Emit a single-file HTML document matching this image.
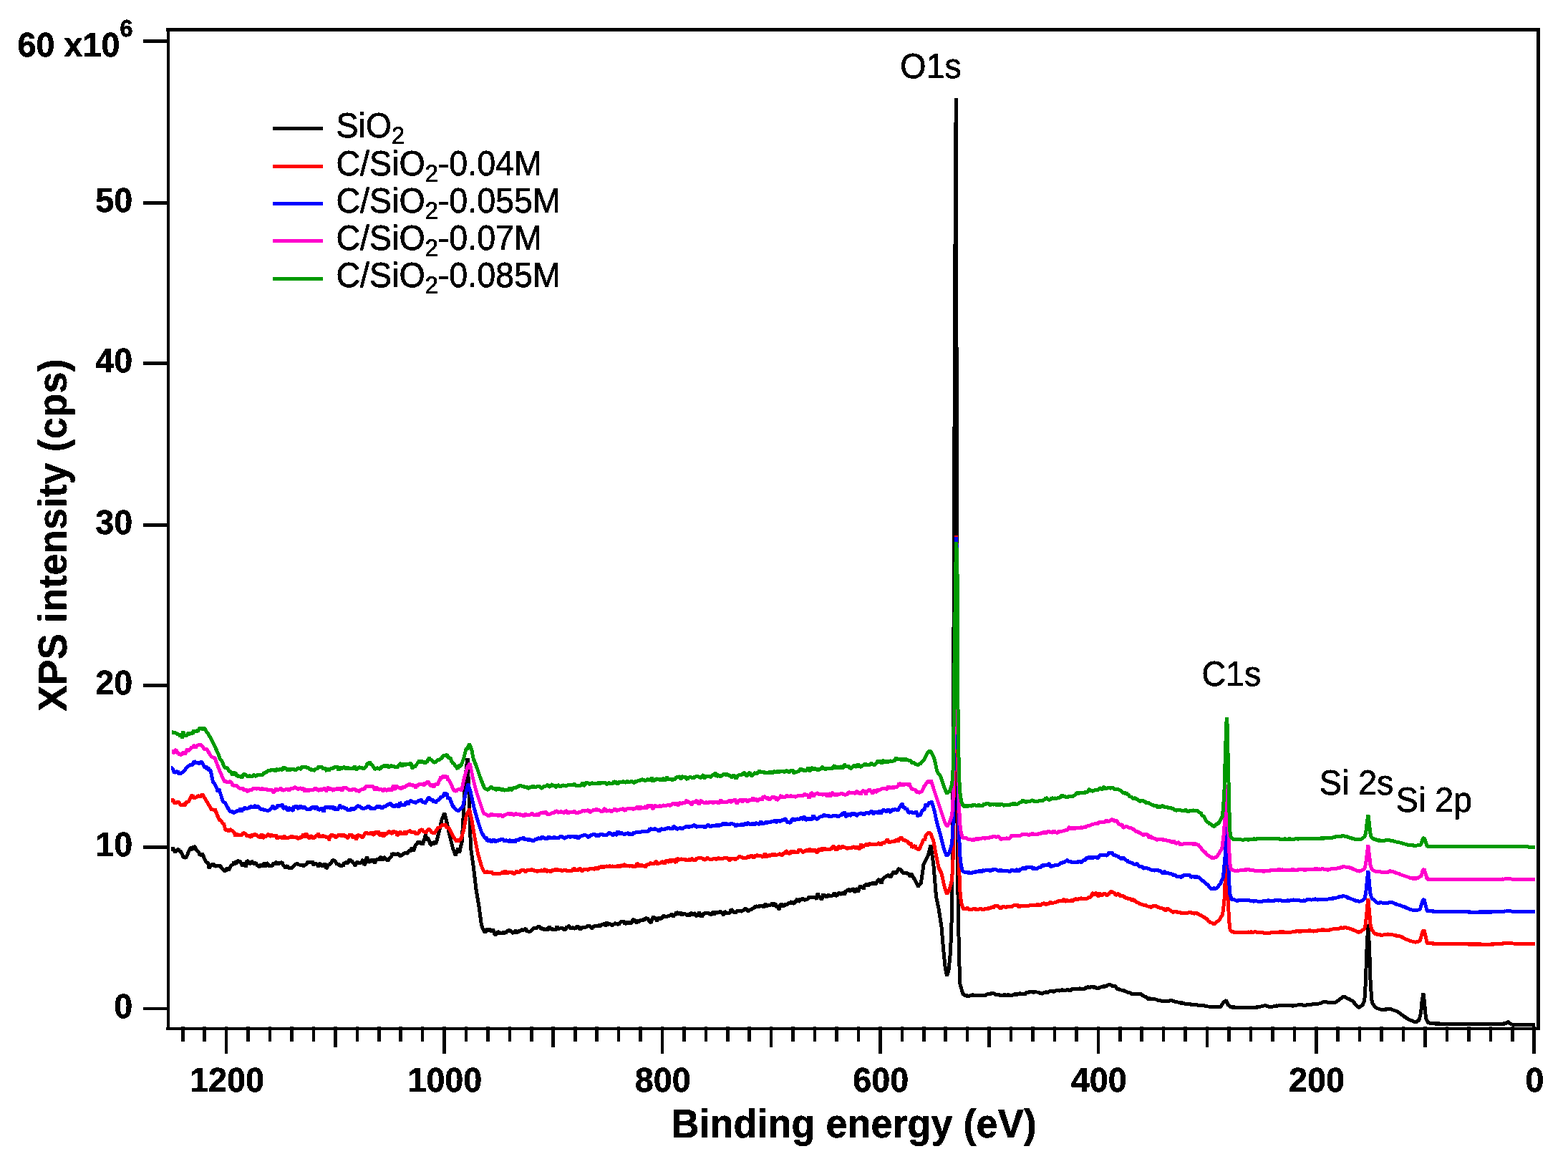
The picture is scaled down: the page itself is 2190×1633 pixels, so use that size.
<!DOCTYPE html>
<html lang="en">
<head>
<meta charset="utf-8">
<title>XPS survey spectra</title>
<style>
html,body{margin:0;padding:0;background:#fff;}
body{width:2190px;height:1633px;overflow:hidden;}
svg{display:block;}
</style>
</head>
<body>
<svg width="2190" height="1633" viewBox="0 0 2190 1633" role="img" aria-label="XPS survey spectra of SiO2 and C/SiO2 samples">
<defs><filter id="crisp" x="0" y="0" width="2190" height="1633" filterUnits="userSpaceOnUse" color-interpolation-filters="sRGB"><feComponentTransfer><feFuncA type="discrete" tableValues="0 1"/></feComponentTransfer></filter></defs>
<rect width="2190" height="1633" fill="#ffffff"/>
<clipPath id="plotA"><rect x="239" y="0" width="1905" height="1633"/></clipPath>
<clipPath id="plotB"><rect x="240" y="0" width="1904" height="1633"/></clipPath>
<g fill="none" stroke-width="5" stroke-linejoin="bevel" stroke-linecap="butt">
<g clip-path="url(#plotA)"><path stroke="#000000" filter="url(#crisp)" d="M238.0 1186.2 L240.0 1186.2 L241.6 1183.8 L243.1 1188.4 L244.7 1190.6 L246.2 1188.8 L247.8 1187.7 L249.4 1185.9 L250.9 1189.2 L252.5 1189.5 L256.2 1197.5 L257.9 1197.8 L259.6 1198.5 L261.2 1195.0 L265.0 1186.2 L266.9 1183.9 L268.8 1187.5 L270.6 1182.2 L272.5 1183.2 L274.2 1187.3 L275.8 1188.9 L277.5 1190.0 L279.2 1194.6 L280.8 1194.1 L282.5 1192.5 L287.5 1203.8 L289.1 1204.8 L290.6 1205.6 L292.2 1213.6 L293.8 1208.8 L295.2 1208.3 L296.7 1207.3 L298.1 1206.7 L299.6 1209.8 L301.0 1210.1 L302.5 1210.0 L304.2 1209.0 L305.8 1209.5 L307.5 1209.5 L309.4 1212.3 L311.2 1213.8 L312.8 1215.9 L314.2 1217.3 L315.8 1215.7 L317.2 1211.6 L318.8 1216.2 L323.8 1207.5 L325.3 1208.8 L326.9 1203.5 L328.4 1206.2 L330.0 1206.2 L331.7 1201.5 L333.3 1203.8 L335.0 1202.5 L338.8 1210.0 L340.3 1206.2 L341.9 1206.5 L343.4 1211.8 L345.0 1202.0 L346.7 1203.3 L348.3 1206.8 L350.0 1206.2 L351.6 1202.8 L353.1 1204.9 L354.7 1206.9 L356.2 1205.0 L357.8 1206.3 L359.4 1209.0 L360.9 1209.9 L362.5 1211.2 L364.2 1207.6 L365.8 1210.1 L367.5 1207.5 L369.1 1205.3 L370.6 1211.3 L372.2 1205.4 L373.8 1206.2 L375.6 1209.7 L377.5 1210.0 L379.0 1208.9 L380.5 1210.0 L382.0 1205.3 L383.5 1208.0 L385.0 1204.5 L386.5 1204.3 L388.0 1207.7 L389.5 1206.3 L391.0 1205.2 L392.5 1205.0 L394.0 1204.2 L395.5 1208.8 L397.0 1209.1 L398.5 1212.8 L400.0 1210.0 L401.5 1209.6 L403.0 1212.3 L404.5 1212.7 L406.0 1212.7 L407.5 1212.5 L409.2 1211.3 L410.8 1209.6 L412.5 1207.5 L414.2 1206.5 L415.8 1206.0 L417.5 1208.8 L419.2 1207.4 L420.8 1209.3 L422.5 1207.5 L424.0 1210.3 L425.5 1208.3 L427.0 1207.7 L428.5 1206.3 L430.0 1203.8 L431.6 1205.2 L433.1 1203.8 L434.7 1205.0 L436.2 1203.0 L437.9 1208.7 L439.6 1205.2 L441.2 1207.5 L442.8 1205.6 L444.4 1211.5 L445.9 1207.1 L447.5 1206.2 L449.2 1209.4 L450.8 1210.0 L452.5 1208.8 L454.0 1205.7 L455.4 1213.6 L456.9 1211.7 L458.3 1207.5 L459.8 1208.4 L461.2 1206.2 L462.9 1205.1 L464.6 1201.3 L466.2 1202.0 L467.8 1202.8 L469.4 1205.0 L470.9 1207.8 L472.5 1206.2 L474.4 1209.5 L476.2 1209.5 L477.8 1208.5 L479.2 1210.4 L480.8 1204.3 L482.2 1206.8 L483.8 1203.8 L485.3 1206.4 L486.9 1203.1 L488.4 1199.5 L490.0 1203.8 L491.5 1202.1 L493.0 1205.3 L494.5 1206.5 L496.0 1209.4 L497.5 1206.2 L499.1 1203.4 L500.6 1205.4 L502.2 1206.5 L503.8 1204.5 L505.3 1204.8 L506.9 1200.1 L508.4 1208.3 L510.0 1207.0 L512.5 1196.2 L514.2 1204.3 L515.8 1203.7 L517.5 1203.8 L519.0 1200.8 L520.5 1201.3 L522.0 1202.0 L523.5 1206.7 L525.0 1200.0 L526.5 1201.0 L528.0 1199.3 L529.5 1202.2 L531.0 1197.8 L532.5 1197.5 L534.1 1202.6 L535.6 1197.1 L537.2 1198.2 L538.8 1200.0 L540.3 1201.1 L541.9 1202.2 L543.4 1199.7 L545.0 1197.5 L546.4 1197.5 L547.9 1191.7 L549.3 1193.6 L550.7 1193.2 L552.1 1192.6 L553.6 1194.6 L555.0 1192.5 L556.7 1192.5 L558.3 1196.1 L560.0 1195.0 L561.6 1194.3 L563.1 1192.3 L564.7 1192.5 L566.2 1191.2 L567.8 1191.8 L569.2 1192.4 L570.8 1188.6 L572.2 1188.7 L573.8 1188.8 L575.2 1183.6 L576.8 1189.2 L578.2 1187.1 L579.8 1181.3 L581.2 1180.0 L582.8 1178.1 L584.2 1175.4 L585.8 1178.2 L587.2 1177.5 L588.8 1176.2 L590.2 1180.6 L591.7 1174.6 L593.1 1170.9 L594.6 1165.6 L596.0 1174.1 L597.5 1169.5 L601.2 1180.0 L602.8 1180.2 L604.2 1175.5 L605.8 1179.7 L607.2 1175.0 L608.8 1178.8 L612.5 1165.0 L617.0 1145.0 L620.8 1135.8 L623.8 1147.5 L627.5 1165.0 L632.5 1185.0 L636.2 1195.0 L640.0 1185.0 L641.7 1191.2 L643.3 1182.8 L645.0 1177.5 L647.5 1135.0 L650.0 1085.0 L653.0 1058.8 L655.0 1110.0 L657.5 1185.0 L661.2 1210.0 L665.0 1242.5 L668.8 1265.0 L672.5 1292.5 L676.2 1301.2 L677.7 1302.0 L679.2 1300.5 L680.6 1297.0 L682.1 1300.2 L683.5 1297.6 L685.0 1300.0 L686.5 1301.7 L687.9 1297.8 L689.4 1300.6 L690.8 1304.9 L692.3 1306.3 L693.8 1304.2 L695.3 1302.0 L696.9 1301.1 L698.4 1304.8 L700.0 1303.0 L701.6 1304.6 L703.1 1301.7 L704.7 1302.4 L706.2 1303.8 L707.9 1301.3 L709.6 1299.2 L711.2 1300.0 L713.1 1300.1 L715.0 1302.5 L716.7 1303.6 L718.3 1301.7 L720.0 1299.5 L721.7 1303.6 L723.3 1300.5 L725.0 1301.2 L726.7 1300.4 L728.3 1298.4 L730.0 1299.5 L731.5 1299.5 L733.0 1297.7 L734.5 1297.1 L736.0 1301.5 L737.5 1300.5 L739.0 1302.3 L740.5 1300.5 L742.0 1300.7 L743.5 1298.1 L745.0 1297.0 L746.5 1295.8 L748.0 1297.2 L749.5 1296.4 L751.0 1295.2 L752.5 1294.2 L754.0 1294.6 L755.5 1297.1 L757.0 1297.4 L758.5 1296.4 L760.0 1299.7 L761.5 1297.5 L763.0 1298.2 L764.5 1299.4 L766.0 1295.9 L767.5 1293.9 L769.0 1298.6 L770.5 1296.1 L772.0 1299.6 L773.5 1298.0 L775.0 1299.1 L776.5 1298.7 L778.0 1293.8 L779.5 1298.7 L781.0 1296.3 L782.5 1297.5 L784.0 1296.1 L785.5 1296.5 L787.1 1298.5 L788.6 1298.6 L790.1 1298.7 L791.6 1294.0 L793.1 1295.7 L794.6 1292.5 L796.2 1296.4 L797.7 1297.5 L799.2 1295.0 L800.7 1296.6 L802.2 1296.5 L803.8 1297.8 L805.3 1294.5 L806.8 1294.3 L808.3 1294.3 L809.8 1298.6 L811.3 1297.4 L812.9 1295.1 L814.4 1295.6 L815.9 1295.3 L817.4 1295.4 L818.9 1294.6 L820.4 1294.2 L822.0 1292.5 L823.5 1293.5 L825.0 1294.5 L826.5 1297.2 L828.0 1295.1 L829.5 1294.1 L831.0 1293.5 L832.5 1293.8 L834.0 1294.2 L835.5 1292.2 L837.0 1293.6 L838.5 1293.5 L840.0 1291.6 L841.5 1291.3 L843.0 1290.8 L844.5 1290.5 L846.0 1293.8 L847.5 1287.9 L849.0 1291.5 L850.5 1290.7 L852.0 1290.5 L853.5 1291.6 L855.0 1293.3 L856.5 1291.3 L858.0 1290.7 L859.5 1289.7 L861.0 1290.4 L862.5 1290.5 L864.0 1291.9 L865.5 1289.4 L867.0 1287.8 L868.5 1287.4 L870.0 1287.5 L871.5 1286.8 L873.0 1291.1 L874.5 1289.5 L876.0 1288.3 L877.5 1291.1 L879.0 1287.1 L880.5 1289.5 L882.0 1289.3 L883.5 1284.9 L885.0 1284.7 L886.5 1285.6 L888.0 1288.7 L889.5 1289.2 L891.0 1284.5 L892.5 1288.4 L894.0 1285.6 L895.5 1285.4 L897.0 1284.9 L898.5 1285.1 L900.0 1285.5 L901.6 1282.0 L903.1 1283.2 L904.7 1282.6 L906.2 1285.5 L907.8 1288.2 L909.4 1289.2 L910.9 1283.4 L912.5 1280.6 L914.1 1282.8 L915.6 1281.6 L917.2 1286.7 L918.8 1283.9 L920.3 1281.3 L921.9 1284.2 L923.4 1283.2 L925.0 1282.0 L926.5 1278.6 L928.0 1280.2 L929.6 1280.3 L931.1 1280.4 L932.6 1280.2 L934.1 1278.9 L935.6 1279.5 L937.1 1277.6 L938.7 1276.6 L940.2 1280.7 L941.7 1278.2 L943.2 1277.9 L944.7 1273.6 L946.2 1276.2 L947.8 1276.0 L949.3 1277.9 L950.8 1274.0 L952.3 1278.6 L953.8 1275.8 L955.3 1277.4 L956.8 1276.5 L958.4 1277.2 L959.9 1279.1 L961.4 1276.1 L962.9 1279.9 L964.4 1275.6 L965.9 1275.3 L967.4 1278.5 L968.9 1275.2 L970.5 1276.6 L972.0 1279.1 L973.5 1279.7 L975.0 1277.5 L976.5 1274.0 L978.1 1278.2 L979.6 1280.7 L981.2 1279.3 L982.7 1276.5 L984.3 1275.7 L985.8 1276.1 L987.4 1274.4 L988.9 1275.9 L990.5 1276.0 L992.0 1275.9 L993.6 1278.3 L995.1 1275.5 L996.7 1273.1 L998.2 1277.7 L999.8 1273.6 L1001.3 1274.6 L1002.9 1275.1 L1004.4 1274.6 L1006.0 1273.2 L1007.5 1275.0 L1009.0 1274.4 L1010.5 1278.9 L1012.0 1273.4 L1013.5 1274.1 L1015.0 1276.4 L1016.5 1275.5 L1018.0 1275.4 L1019.5 1275.4 L1021.0 1269.9 L1022.5 1271.8 L1024.0 1273.6 L1025.5 1274.2 L1027.0 1275.5 L1028.5 1273.8 L1030.0 1272.3 L1031.5 1272.7 L1033.0 1272.0 L1034.5 1272.8 L1036.0 1273.4 L1037.5 1272.0 L1039.1 1270.9 L1040.6 1269.6 L1042.2 1269.1 L1043.8 1272.5 L1045.3 1272.5 L1046.9 1271.5 L1048.4 1270.8 L1050.0 1270.4 L1051.6 1268.3 L1053.1 1269.2 L1054.7 1265.5 L1056.2 1266.7 L1057.8 1265.3 L1059.4 1267.7 L1060.9 1264.8 L1062.5 1265.5 L1064.0 1265.2 L1065.5 1266.1 L1067.0 1267.9 L1068.5 1263.5 L1070.0 1263.1 L1071.5 1266.5 L1073.0 1262.6 L1074.5 1265.6 L1076.0 1263.5 L1077.5 1264.3 L1079.0 1260.8 L1080.5 1265.7 L1082.0 1263.2 L1083.5 1262.3 L1085.0 1268.1 L1086.5 1265.3 L1088.0 1270.8 L1089.5 1264.5 L1091.0 1262.9 L1092.5 1263.7 L1094.0 1266.6 L1095.5 1263.2 L1097.0 1264.1 L1098.5 1264.1 L1100.0 1263.0 L1101.5 1260.8 L1103.0 1262.5 L1104.5 1260.8 L1106.0 1258.9 L1107.5 1262.7 L1109.0 1261.9 L1110.5 1260.3 L1112.0 1258.0 L1113.5 1255.4 L1115.0 1260.0 L1116.5 1258.4 L1118.0 1254.8 L1119.5 1257.7 L1121.0 1254.3 L1122.5 1256.9 L1124.0 1256.9 L1125.5 1256.9 L1127.0 1256.2 L1128.5 1255.7 L1130.0 1252.7 L1131.5 1253.8 L1133.0 1253.2 L1134.5 1253.3 L1136.0 1254.0 L1137.5 1253.0 L1139.1 1254.2 L1140.6 1256.2 L1142.2 1247.4 L1143.8 1253.4 L1145.3 1252.0 L1146.9 1257.0 L1148.4 1254.2 L1150.0 1248.7 L1151.6 1252.8 L1153.1 1250.8 L1154.7 1253.9 L1156.2 1249.5 L1157.8 1251.4 L1159.4 1251.2 L1160.9 1251.2 L1162.5 1251.2 L1164.1 1249.6 L1165.6 1246.6 L1167.2 1251.0 L1168.8 1251.8 L1170.3 1249.2 L1171.9 1246.8 L1173.4 1248.9 L1175.0 1249.3 L1176.6 1247.4 L1178.1 1247.3 L1179.7 1249.9 L1181.2 1244.2 L1182.8 1245.0 L1184.4 1241.8 L1185.9 1243.9 L1187.5 1245.0 L1189.1 1242.9 L1190.6 1242.0 L1192.2 1242.0 L1193.8 1246.8 L1195.3 1242.1 L1196.9 1241.8 L1198.4 1246.2 L1200.0 1240.9 L1201.6 1236.8 L1203.1 1240.9 L1204.7 1237.5 L1206.2 1242.5 L1207.8 1235.8 L1209.4 1236.7 L1210.9 1234.0 L1212.5 1237.0 L1214.0 1236.6 L1215.6 1233.5 L1217.1 1235.0 L1218.7 1233.6 L1220.2 1232.5 L1221.7 1235.3 L1223.3 1234.6 L1224.8 1232.1 L1226.3 1229.3 L1227.9 1228.3 L1229.4 1230.6 L1231.0 1234.7 L1232.5 1228.8 L1234.1 1226.9 L1235.7 1225.4 L1237.3 1224.8 L1238.9 1223.1 L1240.5 1222.6 L1242.0 1223.5 L1243.6 1226.4 L1245.2 1222.4 L1246.8 1220.4 L1248.4 1217.1 L1250.0 1220.0 L1251.5 1219.5 L1253.0 1217.9 L1254.5 1214.2 L1256.0 1213.5 L1257.5 1215.0 L1259.0 1215.9 L1260.5 1219.3 L1262.0 1219.4 L1263.5 1219.5 L1265.0 1220.0 L1266.5 1219.3 L1268.0 1220.7 L1269.5 1220.0 L1271.0 1224.9 L1272.5 1220.0 L1277.5 1228.8 L1282.5 1238.8 L1284.4 1234.4 L1286.2 1235.0 L1290.0 1207.5 L1296.2 1195.0 L1300.0 1180.5 L1303.8 1207.5 L1307.5 1252.5 L1311.2 1270.0 L1315.0 1295.0 L1317.5 1325.0 L1320.0 1350.0 L1322.5 1363.8 L1325.0 1355.0 L1327.5 1330.0 L1329.0 1290.0 L1330.3 1200.0 L1331.5 1030.0 L1332.5 725.0 L1334.4 240.0 L1335.3 137.0 L1336.5 725.0 L1337.0 1150.0 L1338.0 1250.0 L1339.5 1337.0 L1341.0 1375.0 L1345.0 1389.0 L1346.5 1389.2 L1348.0 1390.7 L1349.5 1390.2 L1351.0 1391.6 L1352.5 1391.2 L1353.9 1391.0 L1355.4 1391.0 L1356.8 1390.5 L1358.2 1389.7 L1359.6 1389.8 L1361.1 1391.5 L1362.5 1390.0 L1364.1 1390.4 L1365.6 1390.5 L1367.2 1390.8 L1368.8 1390.6 L1370.3 1390.9 L1371.9 1390.2 L1373.4 1390.3 L1375.0 1390.5 L1376.4 1390.7 L1377.9 1389.4 L1379.3 1388.4 L1380.7 1388.6 L1382.1 1388.0 L1383.6 1388.3 L1385.0 1387.5 L1386.4 1387.4 L1387.9 1387.5 L1389.3 1388.4 L1390.7 1389.9 L1392.1 1389.3 L1393.6 1389.7 L1395.0 1390.0 L1396.6 1390.0 L1398.1 1390.2 L1399.7 1390.6 L1401.2 1390.8 L1402.8 1389.0 L1404.4 1390.8 L1405.9 1390.0 L1407.5 1390.0 L1409.1 1389.7 L1410.6 1391.1 L1412.2 1389.4 L1413.8 1390.6 L1415.3 1389.8 L1416.9 1388.4 L1418.4 1389.2 L1420.0 1388.8 L1421.4 1389.2 L1422.9 1388.7 L1424.3 1387.3 L1425.7 1388.5 L1427.1 1388.6 L1428.6 1388.1 L1430.0 1388.8 L1431.7 1389.1 L1433.3 1386.9 L1435.0 1386.2 L1436.6 1385.9 L1438.1 1385.9 L1439.7 1385.5 L1441.2 1385.5 L1442.8 1386.0 L1444.4 1386.1 L1445.9 1385.5 L1447.5 1385.8 L1449.0 1386.2 L1450.5 1385.8 L1452.0 1387.6 L1453.5 1387.3 L1455.0 1388.2 L1456.4 1387.9 L1457.9 1386.7 L1459.3 1386.5 L1460.7 1386.5 L1462.1 1385.1 L1463.6 1387.2 L1465.0 1385.0 L1466.4 1384.8 L1467.9 1384.6 L1469.3 1383.9 L1470.7 1385.4 L1472.1 1385.1 L1473.6 1384.1 L1475.0 1383.8 L1476.6 1382.8 L1478.1 1383.4 L1479.7 1384.2 L1481.2 1383.4 L1482.8 1382.9 L1484.4 1382.9 L1485.9 1383.2 L1487.5 1383.8 L1489.1 1383.4 L1490.6 1382.6 L1492.2 1382.8 L1493.8 1384.6 L1495.3 1383.5 L1496.9 1381.1 L1498.4 1381.8 L1500.0 1381.2 L1501.6 1381.3 L1503.1 1381.1 L1504.7 1382.1 L1506.2 1381.0 L1507.8 1381.0 L1509.4 1381.0 L1510.9 1381.2 L1512.5 1381.2 L1514.1 1381.9 L1515.6 1381.1 L1517.2 1379.0 L1518.8 1379.3 L1520.3 1378.6 L1521.9 1379.5 L1523.4 1378.6 L1525.0 1378.0 L1526.5 1379.3 L1528.0 1379.0 L1529.5 1378.1 L1531.0 1380.6 L1532.5 1380.8 L1533.9 1380.5 L1535.4 1380.4 L1536.8 1378.5 L1538.2 1379.2 L1539.6 1378.2 L1541.1 1377.8 L1542.5 1378.0 L1543.9 1378.0 L1545.4 1377.8 L1546.8 1376.5 L1548.2 1375.5 L1549.6 1374.6 L1551.1 1376.0 L1552.5 1376.2 L1553.9 1377.9 L1555.4 1377.6 L1556.8 1376.5 L1558.2 1378.4 L1559.6 1380.2 L1561.1 1381.9 L1562.5 1381.2 L1564.1 1382.8 L1565.6 1382.8 L1567.2 1383.3 L1568.8 1383.0 L1570.3 1384.1 L1571.9 1384.8 L1573.4 1385.1 L1575.0 1386.2 L1576.4 1386.6 L1577.9 1386.7 L1579.3 1387.5 L1580.7 1388.6 L1582.1 1388.5 L1583.6 1388.7 L1585.0 1388.8 L1586.5 1388.6 L1587.9 1387.8 L1589.4 1388.7 L1590.8 1389.1 L1592.3 1388.1 L1593.8 1388.8 L1595.2 1390.5 L1596.7 1390.5 L1598.1 1391.8 L1599.6 1392.4 L1601.0 1392.9 L1602.5 1394.5 L1604.1 1395.7 L1605.6 1394.4 L1607.2 1395.6 L1608.8 1395.1 L1610.3 1395.7 L1611.9 1395.5 L1613.4 1395.9 L1615.0 1396.2 L1616.4 1397.0 L1617.9 1397.7 L1619.3 1397.0 L1620.7 1397.7 L1622.1 1398.4 L1623.6 1398.2 L1625.0 1398.8 L1626.4 1398.8 L1627.9 1398.1 L1629.3 1398.4 L1630.7 1398.2 L1632.1 1398.3 L1633.6 1397.8 L1635.0 1397.5 L1636.4 1397.4 L1637.9 1398.4 L1639.3 1398.2 L1640.7 1399.2 L1642.1 1399.7 L1643.6 1399.8 L1645.0 1400.0 L1646.6 1400.2 L1648.1 1400.9 L1649.7 1401.0 L1651.2 1401.0 L1652.8 1401.5 L1654.4 1402.1 L1655.9 1402.2 L1657.5 1402.5 L1659.1 1402.7 L1660.6 1402.8 L1662.2 1403.0 L1663.8 1403.1 L1665.3 1403.3 L1666.9 1403.4 L1668.4 1403.6 L1670.0 1403.8 L1671.6 1403.9 L1673.1 1404.1 L1674.7 1404.2 L1676.2 1404.4 L1677.8 1404.5 L1679.4 1404.7 L1680.9 1404.8 L1682.5 1405.0 L1684.1 1405.3 L1685.7 1405.6 L1687.2 1405.9 L1688.8 1406.2 L1690.4 1406.5 L1692.0 1406.8 L1693.6 1406.8 L1695.1 1406.8 L1696.7 1406.8 L1698.2 1406.8 L1699.8 1406.8 L1701.4 1406.8 L1702.9 1406.8 L1704.5 1406.8 L1706.0 1404.5 L1707.5 1402.2 L1709.0 1400.0 L1710.8 1398.7 L1712.5 1397.0 L1715.2 1403.8 L1716.7 1404.8 L1718.1 1405.9 L1719.5 1407.0 L1721.0 1407.0 L1722.5 1407.1 L1724.0 1407.1 L1725.5 1407.1 L1727.0 1407.2 L1728.5 1407.2 L1730.0 1407.2 L1731.5 1407.3 L1733.0 1407.3 L1734.5 1407.3 L1736.0 1407.4 L1737.5 1407.4 L1739.0 1407.4 L1740.5 1407.5 L1742.0 1407.5 L1743.5 1407.5 L1745.0 1407.4 L1746.5 1407.3 L1748.0 1407.3 L1749.5 1407.2 L1751.0 1407.2 L1752.5 1407.2 L1754.0 1407.1 L1755.5 1407.0 L1757.0 1407.0 L1758.4 1406.6 L1759.9 1406.3 L1761.3 1405.9 L1762.7 1405.6 L1764.1 1405.2 L1765.6 1404.9 L1767.0 1404.5 L1768.5 1405.0 L1770.0 1405.5 L1771.5 1406.0 L1773.0 1406.5 L1774.5 1407.0 L1776.0 1406.6 L1777.5 1406.2 L1779.0 1405.8 L1780.5 1405.4 L1782.0 1405.0 L1783.5 1405.0 L1785.0 1404.9 L1786.5 1404.8 L1788.0 1404.8 L1789.5 1404.8 L1791.0 1404.7 L1792.5 1404.7 L1794.0 1404.6 L1795.5 1404.5 L1797.0 1404.5 L1798.4 1404.6 L1799.9 1404.6 L1801.3 1404.7 L1802.7 1404.8 L1804.1 1404.9 L1805.6 1404.9 L1807.0 1405.0 L1808.4 1404.7 L1809.9 1404.4 L1811.3 1404.1 L1812.7 1403.9 L1814.1 1403.6 L1815.6 1403.3 L1817.0 1403.0 L1818.9 1403.8 L1820.8 1404.5 L1822.4 1404.3 L1824.0 1404.1 L1825.6 1403.9 L1827.2 1403.6 L1828.8 1403.4 L1830.4 1403.2 L1832.0 1403.0 L1833.4 1402.9 L1834.9 1402.7 L1836.3 1402.6 L1837.7 1402.4 L1839.1 1402.3 L1840.6 1402.2 L1842.0 1402.0 L1843.5 1401.4 L1845.0 1401.1 L1846.5 1400.7 L1848.0 1399.8 L1849.5 1399.5 L1851.0 1399.2 L1852.5 1399.4 L1854.0 1400.2 L1855.5 1400.8 L1857.0 1400.8 L1858.5 1400.9 L1859.9 1400.8 L1861.4 1400.8 L1862.8 1400.3 L1864.3 1400.4 L1865.8 1400.0 L1867.4 1398.2 L1869.1 1397.8 L1870.8 1396.2 L1872.2 1395.4 L1873.6 1394.1 L1875.1 1392.8 L1876.5 1392.0 L1878.2 1392.2 L1879.9 1393.6 L1881.6 1394.9 L1883.2 1395.0 L1884.8 1395.8 L1886.4 1397.1 L1887.9 1397.6 L1889.5 1398.8 L1891.2 1400.7 L1892.8 1402.6 L1894.5 1404.5 L1896.4 1406.0 L1898.2 1407.5 L1899.9 1406.2 L1901.6 1405.0 L1903.2 1403.8 L1905.8 1397.5 L1907.2 1375.0 L1908.8 1330.0 L1910.8 1291.2 L1912.8 1330.0 L1914.2 1375.0 L1916.2 1400.0 L1920.8 1407.5 L1922.2 1408.0 L1923.7 1408.5 L1925.1 1409.0 L1926.6 1409.5 L1928.0 1410.0 L1929.5 1410.5 L1931.1 1410.4 L1932.6 1410.2 L1934.2 1410.1 L1935.8 1410.0 L1937.3 1409.9 L1938.9 1409.8 L1940.4 1409.6 L1942.0 1409.5 L1943.4 1410.0 L1944.9 1410.5 L1946.3 1411.0 L1947.7 1411.5 L1949.1 1412.0 L1950.6 1412.5 L1952.0 1413.0 L1953.5 1414.2 L1955.0 1415.3 L1956.5 1416.5 L1958.0 1417.6 L1959.5 1418.8 L1961.0 1419.8 L1962.5 1420.8 L1964.0 1421.8 L1965.5 1422.8 L1967.0 1423.8 L1968.4 1424.4 L1969.9 1425.0 L1971.3 1425.6 L1972.7 1426.2 L1974.1 1426.8 L1975.6 1427.4 L1977.0 1428.0 L1978.7 1427.0 L1980.3 1426.0 L1982.0 1425.0 L1984.5 1415.0 L1986.2 1397.5 L1988.0 1387.5 L1989.5 1400.0 L1991.5 1422.5 L1994.5 1428.8 L1995.9 1428.9 L1997.4 1429.1 L1998.8 1429.3 L2000.2 1429.5 L2001.6 1429.6 L2003.1 1429.8 L2004.5 1430.0 L2006.1 1430.0 L2007.6 1430.1 L2009.2 1430.1 L2010.8 1430.1 L2012.3 1430.2 L2013.9 1430.2 L2015.4 1430.2 L2017.0 1430.2 L2018.6 1430.3 L2020.1 1430.3 L2021.7 1430.3 L2023.2 1430.4 L2024.8 1430.4 L2026.4 1430.4 L2027.9 1430.5 L2029.5 1430.5 L2031.0 1430.5 L2032.5 1430.5 L2034.0 1430.5 L2035.5 1430.5 L2037.0 1430.5 L2038.5 1430.5 L2040.0 1430.5 L2041.5 1430.5 L2043.0 1430.5 L2044.5 1430.5 L2046.0 1430.5 L2047.5 1430.5 L2049.0 1430.5 L2050.5 1430.5 L2052.0 1430.5 L2053.5 1430.5 L2055.0 1430.5 L2056.5 1430.5 L2058.0 1430.5 L2059.5 1430.5 L2061.0 1430.5 L2062.5 1430.5 L2064.0 1430.5 L2065.5 1430.5 L2067.0 1430.5 L2068.6 1430.5 L2070.1 1430.5 L2071.7 1430.5 L2073.2 1430.5 L2074.8 1430.5 L2076.4 1430.5 L2077.9 1430.5 L2079.5 1430.5 L2081.1 1430.5 L2082.6 1430.5 L2084.2 1430.5 L2085.8 1430.5 L2087.3 1430.5 L2088.9 1430.5 L2090.4 1430.5 L2092.0 1430.5 L2093.4 1430.4 L2094.9 1430.4 L2096.3 1430.3 L2097.7 1430.2 L2099.1 1430.1 L2100.6 1430.1 L2102.0 1430.0 L2103.5 1429.2 L2105.0 1428.3 L2106.5 1427.5 L2107.9 1428.6 L2109.3 1429.7 L2110.8 1430.8 L2112.3 1431.0 L2113.9 1431.2 L2115.4 1431.5 L2117.0 1431.8 L2118.6 1431.8 L2120.1 1431.8 L2121.7 1431.8 L2123.2 1431.8 L2124.8 1431.8 L2126.4 1431.8 L2127.9 1431.8 L2129.5 1431.8 L2131.1 1431.8 L2132.6 1431.8 L2134.2 1431.8 L2135.8 1431.8 L2137.3 1431.8 L2138.9 1431.8 L2140.4 1431.8 L2142.0 1431.8 L2144.0 1431.8"/></g>
<g clip-path="url(#plotA)"><path stroke="#ff0000" filter="url(#crisp)" d="M238.0 1118.0 L240.0 1118.0 L241.7 1116.9 L243.3 1121.4 L245.0 1122.5 L246.9 1120.7 L248.8 1120.0 L250.4 1120.6 L252.1 1124.7 L253.8 1124.5 L255.2 1124.1 L256.7 1122.9 L258.1 1126.1 L259.6 1121.4 L261.0 1119.5 L262.5 1121.2 L267.5 1111.2 L269.4 1111.3 L271.2 1116.2 L272.9 1113.6 L274.6 1114.1 L276.2 1111.2 L277.8 1112.3 L279.4 1112.3 L280.9 1113.1 L282.5 1109.2 L287.5 1117.5 L293.8 1128.0 L295.3 1131.6 L296.9 1130.2 L298.4 1131.9 L300.0 1130.0 L305.0 1142.5 L306.7 1145.8 L308.3 1145.7 L310.0 1148.8 L311.2 1150.9 L312.5 1150.0 L315.0 1160.0 L316.6 1159.6 L318.1 1158.5 L319.7 1161.8 L321.2 1157.5 L322.8 1160.6 L324.4 1159.8 L325.9 1162.1 L327.5 1163.8 L329.0 1168.6 L330.5 1164.4 L332.0 1166.7 L333.5 1167.0 L335.0 1166.2 L336.6 1166.7 L338.1 1166.2 L339.7 1163.6 L341.2 1163.8 L343.1 1165.1 L345.0 1168.0 L346.4 1167.6 L347.9 1166.9 L349.3 1168.8 L350.7 1169.9 L352.1 1165.2 L353.6 1167.6 L355.0 1166.2 L356.5 1165.2 L357.9 1166.3 L359.4 1167.8 L360.8 1169.0 L362.3 1168.7 L363.8 1170.0 L365.2 1164.9 L366.7 1171.8 L368.1 1168.4 L369.6 1167.3 L371.0 1169.3 L372.5 1167.5 L373.9 1166.4 L375.4 1164.8 L376.8 1168.2 L378.2 1167.9 L379.6 1165.6 L381.1 1168.5 L382.5 1166.8 L384.0 1168.2 L385.5 1166.1 L387.0 1172.0 L388.5 1169.9 L390.0 1170.0 L391.4 1168.0 L392.9 1170.8 L394.3 1170.1 L395.7 1171.6 L397.1 1167.3 L398.6 1171.6 L400.0 1169.5 L401.5 1170.9 L403.0 1170.1 L404.5 1169.5 L406.0 1170.4 L407.5 1167.5 L409.2 1169.7 L410.8 1169.5 L412.5 1170.0 L414.1 1168.4 L415.6 1171.8 L417.2 1171.4 L418.8 1170.0 L420.3 1169.6 L421.9 1170.5 L423.4 1164.4 L425.0 1168.8 L426.5 1169.2 L427.9 1163.9 L429.4 1168.7 L430.8 1169.9 L432.3 1171.3 L433.8 1167.5 L435.6 1168.6 L437.5 1171.2 L439.4 1170.3 L441.2 1167.5 L442.9 1167.6 L444.5 1163.9 L446.1 1169.5 L447.7 1168.3 L449.3 1168.6 L450.9 1166.9 L452.5 1168.8 L453.9 1168.5 L455.4 1168.5 L456.8 1170.4 L458.2 1168.4 L459.6 1174.0 L461.1 1166.6 L462.5 1167.0 L464.0 1166.8 L465.5 1167.4 L467.0 1166.2 L468.5 1170.6 L470.0 1168.0 L471.6 1168.8 L473.1 1164.9 L474.7 1167.0 L476.2 1166.2 L477.8 1168.9 L479.4 1164.6 L480.9 1167.9 L482.5 1168.0 L484.0 1167.3 L485.5 1171.6 L487.0 1167.8 L488.5 1165.9 L490.0 1166.2 L491.6 1166.1 L493.1 1171.3 L494.7 1167.7 L496.2 1169.2 L497.8 1172.9 L499.4 1165.4 L500.9 1167.3 L502.5 1167.0 L504.4 1168.4 L506.2 1170.5 L510.0 1163.8 L511.5 1162.8 L513.0 1163.9 L514.5 1165.8 L516.0 1163.6 L517.5 1165.0 L519.1 1161.8 L520.6 1166.3 L522.2 1165.9 L523.8 1162.5 L525.3 1162.3 L526.9 1165.0 L528.4 1160.7 L530.0 1166.2 L531.4 1168.1 L532.9 1163.5 L534.3 1164.8 L535.7 1169.6 L537.1 1163.1 L538.6 1165.3 L540.0 1165.0 L541.6 1162.9 L543.1 1161.3 L544.7 1162.4 L546.2 1164.2 L547.8 1164.2 L549.2 1160.8 L550.8 1161.5 L552.2 1163.3 L553.8 1161.2 L555.0 1167.5 L556.7 1165.6 L558.3 1161.9 L560.0 1162.5 L561.4 1165.4 L562.9 1162.9 L564.3 1165.4 L565.7 1161.0 L567.1 1166.0 L568.6 1160.6 L570.0 1163.0 L571.5 1159.7 L573.0 1161.9 L574.5 1161.8 L576.0 1162.8 L577.5 1162.0 L579.4 1162.6 L581.2 1165.0 L582.9 1164.6 L584.6 1164.2 L586.2 1160.0 L587.8 1159.4 L589.4 1158.6 L590.9 1160.9 L592.5 1162.0 L594.0 1163.0 L595.5 1162.5 L597.0 1159.8 L598.5 1158.1 L600.0 1159.2 L601.6 1160.7 L603.1 1164.0 L604.7 1162.3 L606.2 1165.0 L612.5 1155.0 L614.2 1156.6 L615.8 1153.8 L617.5 1152.5 L619.2 1153.1 L620.8 1151.4 L622.5 1152.5 L624.2 1156.7 L625.8 1156.0 L627.5 1157.5 L632.5 1167.5 L637.5 1175.5 L639.1 1172.1 L640.6 1175.6 L642.2 1172.6 L643.8 1172.5 L647.5 1160.0 L651.2 1140.0 L655.5 1130.0 L658.8 1145.0 L662.5 1167.5 L667.5 1192.5 L672.5 1210.0 L676.2 1217.5 L677.7 1219.4 L679.2 1218.2 L680.6 1217.3 L682.1 1218.7 L683.5 1217.9 L685.0 1218.8 L686.5 1217.9 L687.9 1219.5 L689.4 1221.0 L690.8 1220.3 L692.3 1220.4 L693.8 1220.8 L695.2 1219.5 L696.7 1220.7 L698.1 1219.8 L699.6 1220.4 L701.0 1219.1 L702.5 1218.0 L703.9 1221.4 L705.4 1216.1 L706.8 1218.5 L708.2 1219.6 L709.6 1220.3 L711.1 1216.9 L712.5 1219.2 L714.0 1217.4 L715.5 1219.1 L717.0 1220.6 L718.5 1220.5 L720.0 1218.8 L721.6 1216.2 L723.1 1218.4 L724.7 1219.6 L726.2 1217.6 L727.8 1215.7 L729.4 1215.9 L730.9 1214.6 L732.5 1216.2 L734.0 1218.1 L735.6 1215.9 L737.1 1215.6 L738.6 1214.9 L740.1 1216.0 L741.7 1214.9 L743.2 1214.7 L744.7 1216.1 L746.2 1215.8 L747.8 1216.9 L749.3 1216.4 L750.8 1217.9 L752.4 1216.1 L753.9 1216.5 L755.4 1216.4 L756.9 1214.9 L758.5 1217.9 L760.0 1215.2 L761.5 1213.7 L763.1 1217.9 L764.6 1217.0 L766.1 1215.2 L767.6 1217.4 L769.2 1217.4 L770.7 1217.0 L772.2 1214.2 L773.8 1216.2 L775.3 1214.4 L776.8 1215.0 L778.3 1215.0 L779.9 1214.6 L781.4 1216.6 L782.9 1214.7 L784.4 1216.8 L786.0 1216.1 L787.5 1215.8 L789.0 1214.8 L790.5 1215.9 L792.0 1216.5 L793.5 1217.1 L795.0 1214.9 L796.5 1217.8 L798.0 1216.0 L799.5 1216.9 L801.0 1212.9 L802.5 1213.2 L804.0 1216.5 L805.5 1214.3 L807.0 1215.2 L808.5 1216.2 L810.0 1212.1 L811.5 1214.9 L813.0 1217.1 L814.5 1215.2 L816.0 1214.0 L817.5 1214.7 L819.0 1213.7 L820.5 1214.8 L822.0 1215.5 L823.5 1213.1 L825.0 1213.2 L826.5 1214.1 L828.0 1213.5 L829.5 1214.1 L831.0 1214.1 L832.5 1211.0 L834.0 1214.3 L835.5 1213.7 L837.0 1210.6 L838.5 1211.7 L840.0 1209.8 L841.5 1211.4 L843.0 1212.3 L844.5 1209.8 L846.0 1210.3 L847.5 1210.0 L849.0 1210.2 L850.5 1209.9 L852.0 1209.3 L853.5 1211.7 L855.0 1210.4 L856.5 1209.3 L858.0 1212.0 L859.5 1209.4 L861.0 1211.6 L862.5 1210.0 L864.0 1208.1 L865.5 1212.1 L867.0 1209.2 L868.5 1208.4 L870.0 1210.4 L871.5 1207.7 L873.0 1208.0 L874.5 1210.0 L876.0 1208.9 L877.5 1210.2 L879.0 1209.7 L880.5 1209.9 L882.0 1209.6 L883.5 1210.5 L885.0 1209.3 L886.5 1211.0 L888.0 1210.7 L889.5 1206.1 L891.0 1206.4 L892.5 1211.5 L894.0 1208.3 L895.5 1209.2 L897.0 1208.7 L898.5 1209.3 L900.0 1208.8 L901.6 1212.0 L903.1 1207.2 L904.7 1208.1 L906.2 1207.8 L907.8 1205.8 L909.4 1205.8 L910.9 1206.5 L912.5 1206.7 L914.1 1207.0 L915.6 1203.1 L917.2 1203.4 L918.8 1208.2 L920.3 1205.1 L921.9 1206.4 L923.4 1204.2 L925.0 1204.5 L926.5 1203.3 L928.0 1207.6 L929.5 1202.1 L931.0 1202.4 L932.5 1204.7 L934.0 1203.5 L935.5 1200.7 L937.0 1203.3 L938.5 1204.1 L940.0 1200.3 L941.5 1201.7 L943.0 1203.7 L944.5 1205.3 L946.0 1198.3 L947.5 1200.8 L949.0 1201.7 L950.5 1200.0 L952.0 1199.9 L953.5 1200.3 L955.0 1201.8 L956.5 1199.1 L958.0 1202.0 L959.5 1201.8 L961.0 1201.6 L962.5 1200.0 L964.0 1202.5 L965.5 1199.2 L967.0 1199.9 L968.5 1201.6 L970.0 1202.0 L971.5 1201.5 L973.0 1199.2 L974.5 1199.1 L976.0 1197.8 L977.5 1199.2 L979.0 1198.4 L980.5 1199.0 L982.0 1199.2 L983.5 1201.1 L985.0 1201.1 L986.5 1199.7 L988.0 1197.9 L989.5 1199.6 L991.0 1200.4 L992.5 1201.0 L994.0 1200.0 L995.5 1200.9 L997.0 1198.5 L998.5 1200.6 L1000.0 1199.5 L1001.5 1200.7 L1003.0 1198.9 L1004.5 1198.2 L1006.0 1201.4 L1007.5 1197.7 L1009.0 1200.4 L1010.5 1198.8 L1012.0 1198.6 L1013.5 1198.7 L1015.0 1198.3 L1016.5 1198.9 L1018.0 1201.8 L1019.5 1201.3 L1021.0 1198.6 L1022.5 1199.6 L1024.0 1200.2 L1025.5 1198.0 L1027.0 1201.6 L1028.5 1198.7 L1030.0 1199.6 L1031.5 1197.0 L1033.0 1196.6 L1034.5 1196.8 L1036.0 1197.3 L1037.5 1198.2 L1039.0 1199.9 L1040.5 1197.5 L1042.0 1199.4 L1043.5 1197.1 L1045.0 1196.1 L1046.5 1197.8 L1048.0 1196.7 L1049.5 1194.6 L1051.0 1197.2 L1052.5 1198.9 L1054.0 1196.5 L1055.5 1194.8 L1057.0 1195.4 L1058.5 1194.5 L1060.0 1196.0 L1061.5 1194.7 L1063.0 1195.9 L1064.5 1196.3 L1066.0 1198.0 L1067.5 1193.8 L1069.0 1192.2 L1070.5 1198.1 L1072.0 1196.0 L1073.5 1194.6 L1075.0 1195.0 L1076.5 1195.7 L1078.0 1193.1 L1079.5 1193.8 L1081.0 1195.3 L1082.5 1193.4 L1084.0 1194.0 L1085.5 1194.2 L1087.0 1193.5 L1088.5 1192.7 L1090.0 1193.7 L1091.5 1194.8 L1093.0 1194.5 L1094.5 1190.7 L1096.0 1193.2 L1097.5 1188.6 L1099.0 1189.2 L1100.5 1192.0 L1102.0 1192.0 L1103.5 1193.2 L1105.0 1187.8 L1106.5 1192.2 L1108.0 1189.3 L1109.5 1189.2 L1111.0 1190.5 L1112.5 1189.5 L1114.0 1191.8 L1115.5 1187.8 L1117.0 1186.4 L1118.5 1188.1 L1120.0 1188.9 L1121.5 1191.0 L1123.0 1189.5 L1124.5 1188.3 L1126.0 1187.8 L1127.5 1187.8 L1129.0 1190.1 L1130.5 1185.5 L1132.0 1187.1 L1133.5 1186.7 L1135.0 1190.0 L1136.5 1188.2 L1138.0 1186.7 L1139.5 1189.0 L1141.0 1191.0 L1142.5 1189.3 L1144.0 1185.2 L1145.5 1187.0 L1147.0 1189.2 L1148.5 1184.1 L1150.0 1187.0 L1151.5 1184.9 L1153.0 1186.1 L1154.5 1187.6 L1156.0 1185.2 L1157.5 1186.8 L1159.0 1186.1 L1160.5 1186.8 L1162.0 1184.1 L1163.5 1182.3 L1165.0 1182.3 L1166.5 1186.1 L1168.0 1187.4 L1169.5 1186.4 L1171.0 1182.8 L1172.5 1182.4 L1174.0 1184.8 L1175.5 1183.6 L1177.0 1181.9 L1178.5 1184.0 L1180.0 1183.5 L1181.5 1184.5 L1183.0 1185.3 L1184.5 1184.8 L1186.0 1184.7 L1187.5 1184.2 L1189.0 1185.0 L1190.5 1183.7 L1192.0 1182.9 L1193.5 1182.9 L1195.0 1185.4 L1196.5 1182.7 L1198.0 1184.3 L1199.5 1185.6 L1201.0 1185.6 L1202.5 1178.7 L1204.0 1182.5 L1205.5 1183.7 L1207.0 1181.0 L1208.5 1180.4 L1210.0 1179.0 L1211.5 1180.1 L1213.0 1181.1 L1214.5 1177.6 L1216.0 1180.6 L1217.5 1179.0 L1219.0 1180.3 L1220.5 1178.2 L1222.0 1180.1 L1223.5 1180.0 L1225.0 1179.5 L1226.6 1178.0 L1228.1 1177.8 L1229.7 1180.3 L1231.2 1179.5 L1232.8 1176.8 L1234.4 1178.6 L1235.9 1175.5 L1237.5 1176.4 L1239.1 1171.8 L1240.6 1175.7 L1242.2 1177.6 L1243.8 1175.3 L1245.3 1176.9 L1246.9 1174.5 L1248.4 1175.8 L1250.0 1175.0 L1251.5 1174.0 L1253.0 1171.8 L1254.5 1176.5 L1256.0 1170.5 L1257.5 1171.2 L1258.9 1169.4 L1260.4 1172.6 L1261.8 1173.7 L1263.2 1174.0 L1264.6 1173.8 L1266.1 1175.3 L1267.5 1175.0 L1269.0 1178.2 L1270.5 1179.1 L1272.0 1177.1 L1273.5 1184.0 L1275.0 1182.5 L1276.5 1183.2 L1277.9 1180.5 L1279.4 1186.2 L1280.8 1185.3 L1282.3 1186.8 L1283.8 1187.0 L1290.0 1172.5 L1291.6 1173.9 L1293.1 1167.2 L1294.7 1164.8 L1296.2 1163.8 L1298.1 1162.6 L1300.0 1165.0 L1303.8 1175.0 L1307.5 1195.0 L1311.2 1212.5 L1315.0 1220.0 L1318.8 1237.5 L1322.5 1248.8 L1324.0 1246.6 L1325.5 1244.0 L1327.5 1237.6 L1329.6 1229.1 L1330.5 1213.5 L1331.4 1190.8 L1331.9 1128.4 L1332.8 1007.7 L1335.4 748.0 L1336.9 774.9 L1337.6 1021.2 L1338.4 1134.5 L1339.5 1205.3 L1340.5 1240.7 L1342.5 1260.5 L1345.0 1269.0 L1346.6 1269.9 L1348.1 1269.8 L1349.7 1269.7 L1351.3 1267.7 L1352.8 1270.2 L1354.4 1271.2 L1355.9 1269.8 L1357.5 1270.5 L1359.1 1269.9 L1360.7 1269.4 L1362.3 1270.6 L1363.9 1268.8 L1365.5 1272.2 L1367.0 1270.0 L1368.6 1269.6 L1370.2 1269.0 L1371.8 1270.6 L1373.4 1271.0 L1375.0 1270.0 L1376.5 1269.0 L1378.0 1269.3 L1379.5 1269.0 L1381.0 1269.3 L1382.5 1268.5 L1384.0 1268.7 L1385.5 1265.6 L1387.0 1269.3 L1388.5 1265.7 L1390.0 1265.8 L1391.5 1264.8 L1393.0 1265.2 L1394.5 1266.7 L1396.0 1267.3 L1397.5 1269.1 L1399.0 1268.1 L1400.5 1266.2 L1402.0 1266.8 L1403.5 1266.9 L1405.0 1267.5 L1406.5 1266.6 L1408.0 1266.7 L1409.5 1265.9 L1411.0 1267.4 L1412.5 1266.2 L1414.0 1266.2 L1415.5 1265.1 L1417.0 1263.7 L1418.5 1265.1 L1420.0 1264.2 L1421.5 1264.3 L1423.0 1267.1 L1424.5 1266.7 L1426.0 1264.6 L1427.5 1266.2 L1429.1 1265.0 L1430.6 1265.3 L1432.2 1265.4 L1433.8 1266.6 L1435.3 1265.0 L1436.9 1265.4 L1438.4 1264.4 L1440.0 1264.5 L1441.5 1264.1 L1443.0 1265.5 L1444.5 1264.1 L1446.0 1266.0 L1447.5 1263.7 L1449.0 1264.0 L1450.5 1263.9 L1452.0 1264.0 L1453.5 1265.2 L1455.0 1263.0 L1456.5 1262.1 L1458.0 1262.1 L1459.5 1261.5 L1461.0 1264.3 L1462.5 1262.6 L1464.0 1262.5 L1465.5 1262.3 L1467.0 1259.6 L1468.5 1262.3 L1470.0 1261.2 L1471.6 1261.0 L1473.1 1260.8 L1474.7 1260.1 L1476.2 1259.5 L1477.8 1259.2 L1479.4 1258.2 L1480.9 1258.2 L1482.5 1258.0 L1484.1 1258.8 L1485.6 1255.7 L1487.2 1259.0 L1488.8 1258.9 L1490.3 1257.0 L1491.9 1258.8 L1493.4 1258.6 L1495.0 1258.2 L1496.6 1257.3 L1498.1 1259.4 L1499.7 1257.3 L1501.2 1256.5 L1502.8 1254.8 L1504.4 1258.3 L1505.9 1255.7 L1507.5 1255.0 L1509.1 1255.2 L1510.6 1254.4 L1512.2 1256.9 L1513.8 1254.2 L1515.3 1256.1 L1516.9 1255.3 L1518.4 1255.1 L1520.0 1253.8 L1521.4 1253.8 L1522.9 1253.7 L1524.3 1251.5 L1525.7 1248.5 L1527.1 1247.0 L1528.6 1250.8 L1530.0 1248.8 L1531.4 1246.5 L1532.9 1250.7 L1534.3 1253.0 L1535.7 1247.2 L1537.1 1250.4 L1538.6 1250.4 L1540.0 1250.0 L1541.5 1249.0 L1542.9 1247.2 L1544.4 1249.3 L1545.8 1251.2 L1547.3 1248.9 L1548.8 1248.8 L1550.4 1246.9 L1552.0 1245.0 L1553.6 1246.0 L1555.2 1246.8 L1556.8 1247.9 L1558.4 1251.2 L1560.0 1249.2 L1561.6 1248.8 L1563.1 1248.4 L1564.7 1252.2 L1566.2 1251.2 L1567.8 1251.8 L1569.4 1251.4 L1570.9 1253.4 L1572.5 1254.2 L1574.1 1254.3 L1575.6 1255.9 L1577.2 1255.5 L1578.8 1254.9 L1580.3 1257.6 L1581.9 1257.6 L1583.4 1256.1 L1585.0 1258.8 L1586.4 1259.1 L1587.9 1261.0 L1589.3 1260.8 L1590.7 1261.3 L1592.1 1263.0 L1593.6 1262.4 L1595.0 1263.8 L1596.4 1263.4 L1597.9 1265.0 L1599.3 1264.7 L1600.7 1264.6 L1602.1 1265.8 L1603.6 1266.2 L1605.0 1266.2 L1606.4 1267.2 L1607.9 1267.2 L1609.3 1266.1 L1610.7 1266.0 L1612.1 1265.0 L1613.6 1266.0 L1615.0 1265.8 L1616.4 1265.9 L1617.9 1267.6 L1619.3 1268.1 L1620.7 1268.4 L1622.1 1268.2 L1623.6 1269.1 L1625.0 1269.2 L1626.5 1271.2 L1628.0 1271.8 L1629.5 1270.0 L1631.0 1268.3 L1632.5 1272.1 L1634.0 1270.5 L1635.5 1272.5 L1637.0 1273.3 L1638.5 1274.7 L1640.0 1273.8 L1641.4 1273.8 L1642.9 1274.0 L1644.3 1273.8 L1645.7 1274.8 L1647.1 1273.5 L1648.6 1275.4 L1650.0 1275.0 L1651.6 1275.3 L1653.1 1276.3 L1654.7 1274.7 L1656.2 1275.3 L1657.8 1275.2 L1659.4 1275.0 L1660.9 1274.1 L1662.5 1275.0 L1663.9 1274.6 L1665.4 1275.3 L1666.8 1275.8 L1668.2 1276.4 L1669.6 1275.0 L1671.1 1275.9 L1672.5 1275.8 L1674.0 1277.2 L1675.5 1278.2 L1677.0 1278.5 L1678.5 1279.4 L1680.0 1280.0 L1681.5 1281.0 L1683.0 1282.5 L1684.5 1283.6 L1686.0 1283.6 L1687.5 1286.2 L1689.1 1287.4 L1690.8 1289.5 L1692.4 1288.1 L1694.1 1290.5 L1695.8 1290.5 L1697.2 1290.1 L1698.7 1288.1 L1700.1 1287.4 L1701.5 1286.2 L1703.0 1285.0 L1707.5 1277.5 L1709.8 1260.0 L1711.5 1222.5 L1713.2 1186.2 L1715.0 1250.0 L1716.5 1285.0 L1718.2 1300.0 L1719.8 1300.5 L1721.4 1302.0 L1722.9 1301.8 L1724.5 1302.5 L1726.1 1302.7 L1727.7 1302.5 L1729.3 1303.5 L1730.9 1301.7 L1732.5 1302.6 L1734.0 1301.9 L1735.6 1302.2 L1737.2 1302.1 L1738.8 1302.9 L1740.4 1302.0 L1742.0 1302.5 L1743.6 1302.0 L1745.1 1302.2 L1746.7 1301.9 L1748.2 1301.8 L1749.8 1303.0 L1751.4 1301.8 L1752.9 1301.7 L1754.5 1302.0 L1756.0 1302.8 L1757.5 1302.3 L1759.0 1302.9 L1760.5 1301.7 L1762.0 1302.5 L1763.5 1303.0 L1765.0 1303.0 L1766.5 1303.3 L1768.0 1303.7 L1769.5 1303.2 L1771.1 1303.4 L1772.7 1303.5 L1774.3 1303.3 L1775.9 1302.5 L1777.5 1302.8 L1779.0 1303.2 L1780.6 1302.0 L1782.2 1302.6 L1783.8 1302.5 L1785.4 1302.8 L1787.0 1302.0 L1788.6 1301.2 L1790.2 1303.1 L1791.8 1301.2 L1793.4 1301.9 L1795.0 1303.1 L1796.5 1301.2 L1798.1 1303.0 L1799.7 1302.0 L1801.3 1302.8 L1802.9 1302.5 L1804.5 1301.8 L1806.0 1301.7 L1807.6 1301.2 L1809.1 1301.3 L1810.7 1300.7 L1812.2 1300.6 L1813.7 1301.4 L1815.3 1300.4 L1816.8 1301.2 L1818.3 1300.9 L1819.9 1300.7 L1821.4 1300.2 L1823.0 1300.0 L1824.5 1300.5 L1826.1 1300.8 L1827.7 1299.8 L1829.3 1299.9 L1830.9 1300.1 L1832.5 1300.4 L1834.0 1301.0 L1835.6 1300.9 L1837.2 1300.2 L1838.8 1300.1 L1840.4 1300.0 L1842.0 1299.5 L1843.5 1299.3 L1845.0 1299.3 L1846.5 1298.3 L1848.0 1299.5 L1849.5 1298.9 L1851.0 1299.3 L1852.5 1300.2 L1854.0 1299.4 L1855.5 1299.5 L1857.0 1298.8 L1858.4 1299.1 L1859.9 1298.1 L1861.3 1297.9 L1862.7 1297.2 L1864.1 1297.5 L1865.6 1297.8 L1867.0 1297.5 L1868.5 1297.7 L1870.1 1297.4 L1871.6 1296.6 L1873.1 1295.8 L1874.7 1296.3 L1876.2 1296.2 L1877.8 1295.8 L1879.3 1294.9 L1880.8 1296.6 L1882.4 1296.0 L1883.9 1297.0 L1885.5 1297.6 L1887.0 1298.0 L1888.5 1298.1 L1890.0 1299.0 L1891.5 1300.0 L1893.0 1300.1 L1894.5 1301.2 L1896.2 1301.9 L1897.8 1302.1 L1899.5 1302.0 L1901.0 1301.3 L1902.5 1299.5 L1904.0 1298.9 L1905.5 1298.0 L1907.5 1290.0 L1909.0 1273.8 L1910.8 1255.0 L1912.5 1273.8 L1914.0 1291.2 L1916.0 1299.5 L1917.6 1301.0 L1919.2 1302.9 L1920.8 1304.5 L1922.2 1305.1 L1923.7 1304.9 L1925.1 1305.4 L1926.6 1306.0 L1928.0 1305.8 L1929.5 1306.2 L1930.9 1306.4 L1932.4 1305.9 L1933.8 1305.2 L1935.2 1305.5 L1936.6 1305.4 L1938.1 1305.0 L1939.5 1305.0 L1941.0 1306.0 L1942.5 1305.4 L1944.0 1305.2 L1945.5 1305.9 L1947.0 1306.2 L1948.5 1306.4 L1950.0 1306.9 L1951.5 1307.9 L1953.0 1307.3 L1954.5 1307.5 L1956.0 1308.5 L1957.5 1308.8 L1959.0 1309.5 L1960.5 1310.4 L1962.0 1311.2 L1963.5 1311.9 L1965.0 1312.5 L1966.5 1313.2 L1968.0 1313.8 L1969.5 1314.5 L1971.0 1314.8 L1972.5 1315.2 L1974.0 1315.5 L1975.5 1315.9 L1977.0 1316.2 L1978.6 1315.8 L1980.1 1315.4 L1981.7 1314.9 L1983.2 1314.5 L1986.5 1302.5 L1988.8 1298.8 L1991.0 1307.5 L1993.2 1317.5 L1994.9 1317.6 L1996.5 1317.7 L1998.1 1317.8 L1999.7 1317.9 L2001.3 1318.0 L2002.9 1318.1 L2004.5 1318.2 L2006.0 1318.3 L2007.5 1318.3 L2009.0 1318.3 L2010.5 1318.3 L2012.0 1318.3 L2013.5 1318.4 L2015.0 1318.4 L2016.5 1318.4 L2018.0 1318.4 L2019.5 1318.5 L2021.0 1318.5 L2022.5 1318.5 L2024.0 1318.5 L2025.5 1318.5 L2027.0 1318.5 L2028.5 1318.6 L2030.0 1318.6 L2031.5 1318.6 L2033.0 1318.6 L2034.5 1318.7 L2036.0 1318.7 L2037.5 1318.7 L2039.0 1318.7 L2040.5 1318.7 L2042.0 1318.8 L2043.5 1318.8 L2045.0 1318.8 L2046.6 1318.8 L2048.1 1318.8 L2049.6 1318.9 L2051.1 1318.9 L2052.7 1318.9 L2054.2 1318.9 L2055.7 1318.9 L2057.2 1319.0 L2058.7 1319.0 L2060.3 1319.0 L2061.8 1319.0 L2063.3 1319.1 L2064.8 1319.1 L2066.3 1319.1 L2067.9 1319.1 L2069.4 1319.1 L2070.9 1319.2 L2072.4 1319.2 L2074.0 1319.2 L2075.5 1319.2 L2077.0 1319.2 L2078.5 1319.2 L2080.0 1319.2 L2081.5 1319.1 L2083.0 1319.0 L2084.5 1319.0 L2086.0 1319.0 L2087.5 1318.9 L2089.0 1318.8 L2090.5 1318.8 L2092.0 1318.8 L2093.5 1318.6 L2095.0 1318.4 L2096.5 1318.2 L2098.0 1318.0 L2099.5 1317.9 L2101.0 1317.7 L2102.5 1317.5 L2104.0 1317.3 L2105.5 1317.2 L2107.0 1317.0 L2108.4 1317.2 L2109.9 1317.4 L2111.3 1317.6 L2112.7 1317.9 L2114.1 1318.1 L2115.6 1318.3 L2117.0 1318.5 L2118.5 1318.5 L2120.1 1318.5 L2121.6 1318.5 L2123.2 1318.6 L2124.7 1318.6 L2126.3 1318.6 L2127.8 1318.6 L2129.4 1318.6 L2130.9 1318.6 L2132.4 1318.6 L2134.0 1318.7 L2135.5 1318.7 L2137.1 1318.7 L2138.6 1318.7 L2140.2 1318.7 L2141.7 1318.7 L2143.2 1318.8 L2145.2 1318.8"/></g>
<g clip-path="url(#plotA)"><path stroke="#0000ff" filter="url(#crisp)" d="M238.0 1072.5 L240.0 1072.5 L241.7 1074.4 L243.3 1079.4 L245.0 1078.8 L246.7 1078.2 L248.3 1077.2 L250.0 1081.2 L251.5 1080.8 L253.0 1080.4 L254.5 1079.0 L256.0 1078.3 L257.5 1076.2 L259.0 1074.7 L260.5 1072.3 L262.0 1070.5 L263.5 1070.0 L265.0 1068.8 L266.5 1067.4 L268.0 1068.9 L269.5 1067.5 L271.0 1063.2 L272.5 1064.5 L274.0 1065.8 L275.4 1064.4 L276.9 1066.3 L278.3 1066.9 L279.8 1065.1 L281.2 1063.8 L286.2 1072.5 L287.8 1070.0 L289.2 1074.9 L290.8 1071.4 L292.2 1077.5 L293.8 1075.0 L297.5 1092.5 L299.2 1094.0 L300.8 1097.4 L302.5 1100.0 L304.2 1106.0 L305.8 1102.0 L307.5 1107.5 L311.2 1118.8 L312.9 1121.1 L314.6 1121.2 L316.2 1125.0 L321.2 1133.8 L322.8 1133.3 L324.4 1133.2 L325.9 1136.1 L327.5 1135.0 L329.2 1133.6 L330.8 1133.6 L332.5 1131.8 L334.0 1133.0 L335.5 1128.7 L337.0 1134.1 L338.5 1131.1 L340.0 1131.2 L341.6 1127.7 L343.1 1128.6 L344.7 1130.6 L346.2 1128.0 L347.7 1129.6 L349.2 1126.1 L350.6 1127.1 L352.1 1127.0 L353.5 1128.0 L355.0 1125.5 L356.5 1126.1 L358.0 1128.8 L359.5 1126.0 L361.0 1127.0 L362.5 1128.8 L363.9 1130.5 L365.4 1131.0 L366.8 1129.9 L368.2 1131.5 L369.6 1131.1 L371.1 1132.5 L372.5 1131.2 L373.9 1133.3 L375.4 1131.8 L376.8 1132.1 L378.2 1129.6 L379.6 1129.0 L381.1 1125.5 L382.5 1129.2 L383.9 1129.7 L385.4 1128.4 L386.8 1128.8 L388.2 1123.9 L389.6 1125.9 L391.1 1125.2 L392.5 1125.5 L394.1 1123.0 L395.7 1128.7 L397.3 1129.9 L398.9 1126.0 L400.5 1129.7 L402.1 1132.7 L403.8 1130.0 L405.2 1127.6 L406.7 1131.2 L408.1 1131.9 L409.6 1131.9 L411.0 1125.6 L412.5 1127.5 L414.0 1125.8 L415.6 1128.2 L417.1 1130.1 L418.6 1125.6 L420.1 1126.6 L421.7 1126.0 L423.2 1130.1 L424.7 1127.1 L426.2 1128.0 L428.1 1130.5 L430.0 1130.5 L431.5 1131.0 L433.0 1131.1 L434.5 1128.9 L436.0 1127.9 L437.5 1126.2 L439.0 1129.3 L440.4 1128.8 L441.9 1126.4 L443.3 1128.5 L444.8 1131.9 L446.2 1130.8 L447.7 1130.6 L449.2 1129.1 L450.6 1129.5 L452.1 1134.5 L453.5 1127.7 L455.0 1127.0 L456.5 1128.0 L458.0 1128.0 L459.5 1126.6 L461.0 1129.2 L462.5 1126.8 L464.0 1129.2 L465.5 1129.0 L467.0 1126.4 L468.5 1131.9 L470.0 1130.0 L471.5 1131.2 L473.0 1129.3 L474.5 1124.1 L476.0 1128.5 L477.5 1128.0 L479.0 1126.5 L480.5 1128.9 L482.0 1128.9 L483.5 1128.9 L485.0 1130.8 L486.4 1132.6 L487.9 1130.7 L489.3 1132.6 L490.7 1128.3 L492.1 1129.5 L493.6 1132.2 L495.0 1129.2 L496.6 1129.3 L498.1 1126.6 L499.7 1125.6 L501.2 1126.2 L502.9 1126.4 L504.6 1128.3 L506.2 1129.2 L507.7 1130.1 L509.2 1128.5 L510.6 1129.0 L512.1 1128.5 L513.5 1126.6 L515.0 1125.5 L516.6 1129.2 L518.1 1129.3 L519.7 1128.7 L521.2 1130.0 L522.7 1129.4 L524.2 1129.2 L525.6 1127.4 L527.1 1125.7 L528.5 1127.8 L530.0 1127.0 L531.7 1126.6 L533.3 1129.0 L535.0 1128.0 L536.5 1126.3 L537.9 1126.7 L539.4 1126.1 L540.8 1124.0 L542.3 1124.4 L543.8 1123.0 L545.3 1122.6 L546.9 1123.8 L548.4 1126.7 L550.0 1125.8 L551.4 1126.4 L552.9 1125.4 L554.3 1123.6 L555.7 1126.1 L557.1 1128.2 L558.6 1120.2 L560.0 1123.8 L561.5 1125.5 L562.9 1123.5 L564.4 1124.7 L565.8 1124.4 L567.3 1120.0 L568.8 1121.2 L570.3 1124.0 L571.9 1119.1 L573.4 1119.1 L575.0 1118.8 L576.6 1120.7 L578.1 1120.0 L579.7 1121.3 L581.2 1121.2 L582.8 1119.8 L584.2 1118.2 L585.8 1119.5 L587.2 1116.8 L588.8 1118.0 L590.3 1121.2 L591.9 1119.6 L593.4 1122.3 L595.0 1120.0 L596.6 1117.1 L598.1 1114.9 L599.7 1113.7 L601.2 1117.0 L602.8 1117.4 L604.2 1116.7 L605.8 1120.7 L607.2 1118.3 L608.8 1121.8 L610.2 1117.5 L611.8 1118.8 L613.2 1115.7 L614.8 1115.8 L616.2 1112.5 L617.8 1113.3 L619.4 1111.5 L620.9 1107.6 L622.5 1108.8 L624.2 1109.0 L625.8 1116.5 L627.5 1113.8 L632.5 1126.2 L634.0 1127.4 L635.5 1129.8 L637.0 1130.9 L638.5 1132.0 L640.0 1133.2 L641.6 1131.7 L643.1 1129.5 L644.7 1128.2 L646.2 1127.5 L650.0 1110.0 L653.8 1095.0 L657.5 1107.5 L662.5 1130.0 L667.5 1147.5 L672.5 1162.5 L677.5 1171.2 L679.0 1169.1 L680.5 1175.4 L682.0 1173.5 L683.5 1172.4 L685.0 1175.0 L686.5 1175.7 L687.9 1175.7 L689.4 1172.4 L690.8 1173.5 L692.3 1176.4 L693.8 1173.8 L695.3 1174.3 L696.9 1173.7 L698.4 1174.1 L700.0 1172.0 L701.5 1172.4 L703.0 1172.6 L704.5 1175.9 L706.0 1173.7 L707.5 1174.2 L708.9 1174.3 L710.4 1175.4 L711.8 1174.6 L713.2 1172.7 L714.6 1177.4 L716.1 1174.5 L717.5 1174.5 L719.0 1176.9 L720.5 1174.4 L722.0 1171.8 L723.5 1175.0 L725.0 1172.0 L726.6 1172.0 L728.1 1171.2 L729.7 1172.6 L731.2 1169.5 L732.8 1173.6 L734.4 1172.0 L735.9 1172.9 L737.5 1173.2 L739.1 1171.9 L740.6 1174.1 L742.2 1173.4 L743.8 1174.4 L745.3 1175.1 L746.9 1172.8 L748.4 1172.3 L750.0 1172.5 L751.6 1170.6 L753.1 1170.9 L754.7 1172.7 L756.2 1170.0 L757.8 1168.2 L759.4 1170.5 L760.9 1171.2 L762.5 1170.5 L764.0 1172.8 L765.5 1169.4 L767.0 1169.0 L768.5 1170.5 L770.0 1170.1 L771.5 1170.6 L773.0 1169.4 L774.5 1170.4 L776.0 1169.1 L777.5 1171.5 L779.0 1170.3 L780.5 1170.7 L782.0 1169.1 L783.5 1167.5 L785.0 1169.6 L786.5 1169.5 L788.0 1171.2 L789.5 1170.9 L791.0 1169.3 L792.5 1169.2 L794.0 1167.7 L795.5 1169.0 L797.0 1169.4 L798.5 1168.3 L800.0 1168.8 L801.5 1167.2 L803.0 1170.7 L804.5 1167.2 L806.0 1171.1 L807.5 1170.3 L809.0 1170.8 L810.5 1167.0 L812.0 1169.2 L813.5 1166.0 L815.0 1167.5 L816.5 1165.7 L818.0 1166.8 L819.5 1167.1 L821.0 1169.3 L822.5 1169.4 L824.0 1167.0 L825.5 1167.1 L827.0 1166.0 L828.5 1165.6 L830.0 1164.5 L831.5 1166.9 L833.0 1168.1 L834.5 1165.9 L836.0 1167.5 L837.5 1166.8 L839.0 1165.0 L840.5 1165.1 L842.0 1165.8 L843.5 1167.9 L845.0 1165.6 L846.5 1167.5 L848.0 1165.6 L849.5 1164.4 L851.0 1162.9 L852.5 1165.1 L854.0 1164.3 L855.5 1167.1 L857.0 1166.3 L858.5 1162.9 L860.0 1166.7 L861.5 1166.1 L863.0 1160.7 L864.5 1163.5 L866.0 1165.4 L867.5 1162.4 L869.0 1163.6 L870.5 1165.5 L872.0 1165.0 L873.5 1165.2 L875.0 1164.2 L876.6 1165.1 L878.1 1162.6 L879.7 1167.5 L881.2 1164.3 L882.8 1166.6 L884.4 1162.6 L885.9 1163.7 L887.5 1163.2 L889.1 1162.2 L890.6 1162.7 L892.2 1162.4 L893.8 1163.0 L895.3 1162.0 L896.9 1161.4 L898.4 1161.9 L900.0 1160.8 L901.6 1163.0 L903.1 1160.7 L904.7 1161.5 L906.2 1160.6 L907.8 1157.1 L909.4 1158.7 L910.9 1158.5 L912.5 1157.7 L914.1 1158.8 L915.6 1156.8 L917.2 1159.9 L918.8 1158.5 L920.3 1161.2 L921.9 1159.7 L923.4 1157.0 L925.0 1158.8 L926.6 1158.3 L928.1 1158.6 L929.7 1157.2 L931.2 1157.5 L932.8 1156.2 L934.4 1156.6 L935.9 1158.0 L937.5 1156.8 L939.1 1159.1 L940.6 1153.6 L942.2 1155.5 L943.8 1156.0 L945.3 1158.8 L946.9 1158.0 L948.4 1157.3 L950.0 1155.8 L951.6 1157.3 L953.1 1158.2 L954.7 1156.7 L956.2 1155.1 L957.8 1155.7 L959.4 1154.1 L960.9 1154.8 L962.5 1155.7 L964.1 1154.2 L965.6 1155.1 L967.2 1154.1 L968.8 1152.6 L970.3 1152.3 L971.9 1155.7 L973.4 1154.5 L975.0 1154.2 L976.5 1155.6 L978.0 1154.0 L979.5 1154.1 L981.0 1154.5 L982.5 1153.4 L984.0 1156.2 L985.5 1155.5 L987.0 1154.4 L988.5 1152.0 L990.0 1152.8 L991.5 1153.9 L993.0 1155.4 L994.5 1153.4 L996.0 1153.3 L997.5 1154.1 L999.0 1153.4 L1000.5 1152.9 L1002.0 1151.2 L1003.5 1155.0 L1005.0 1152.8 L1006.5 1152.0 L1008.0 1152.6 L1009.5 1150.6 L1011.0 1149.9 L1012.5 1152.5 L1014.0 1149.6 L1015.5 1153.1 L1017.0 1150.3 L1018.5 1152.6 L1020.0 1150.5 L1021.5 1149.5 L1023.0 1151.3 L1024.5 1151.1 L1026.0 1151.2 L1027.5 1155.1 L1029.0 1152.5 L1030.5 1151.2 L1032.0 1153.6 L1033.5 1151.6 L1035.0 1154.1 L1036.5 1149.5 L1038.0 1153.8 L1039.5 1150.2 L1041.0 1150.8 L1042.5 1152.3 L1044.0 1150.2 L1045.5 1149.2 L1047.0 1151.2 L1048.5 1151.3 L1050.0 1151.8 L1051.6 1148.9 L1053.1 1153.0 L1054.7 1149.9 L1056.2 1150.0 L1057.8 1150.5 L1059.4 1150.7 L1060.9 1152.2 L1062.5 1146.7 L1064.1 1150.1 L1065.6 1151.3 L1067.2 1150.1 L1068.8 1149.4 L1070.3 1147.5 L1071.9 1149.7 L1073.4 1148.1 L1075.0 1148.8 L1076.5 1148.8 L1078.0 1146.7 L1079.5 1147.7 L1081.0 1147.8 L1082.5 1145.5 L1084.0 1149.4 L1085.5 1147.4 L1087.0 1145.3 L1088.5 1146.8 L1090.0 1147.3 L1091.5 1146.3 L1093.0 1145.0 L1094.5 1146.2 L1096.0 1144.1 L1097.5 1143.4 L1099.0 1148.0 L1100.5 1148.7 L1102.0 1148.8 L1103.5 1149.3 L1105.0 1147.6 L1106.5 1143.6 L1108.0 1144.1 L1109.5 1146.7 L1111.0 1143.9 L1112.5 1144.5 L1114.1 1143.8 L1115.6 1144.2 L1117.2 1144.8 L1118.8 1141.7 L1120.3 1143.9 L1121.9 1144.6 L1123.4 1140.2 L1125.0 1145.4 L1126.6 1144.7 L1128.1 1141.9 L1129.7 1146.2 L1131.2 1143.7 L1132.8 1143.7 L1134.4 1145.4 L1135.9 1138.3 L1137.5 1142.5 L1139.0 1142.4 L1140.5 1144.0 L1142.0 1144.5 L1143.5 1141.9 L1145.0 1141.5 L1146.5 1140.4 L1148.0 1141.0 L1149.5 1140.0 L1151.0 1137.2 L1152.5 1140.2 L1154.0 1139.4 L1155.5 1139.9 L1157.0 1140.0 L1158.5 1139.8 L1160.0 1140.7 L1161.5 1140.3 L1163.0 1139.7 L1164.5 1139.1 L1166.0 1139.8 L1167.5 1139.4 L1169.0 1139.5 L1170.5 1142.0 L1172.0 1139.9 L1173.5 1138.7 L1175.0 1139.2 L1176.5 1135.6 L1178.0 1136.5 L1179.5 1133.8 L1181.0 1140.3 L1182.5 1140.5 L1184.0 1137.8 L1185.5 1137.6 L1187.0 1139.1 L1188.5 1139.2 L1190.0 1135.0 L1191.5 1137.5 L1193.0 1137.3 L1194.5 1135.5 L1196.0 1140.0 L1197.5 1138.7 L1199.0 1136.3 L1200.5 1137.1 L1202.0 1136.1 L1203.5 1136.1 L1205.0 1136.2 L1206.5 1138.5 L1208.0 1136.6 L1209.5 1135.7 L1211.0 1135.2 L1212.5 1136.2 L1214.0 1136.5 L1215.5 1134.3 L1217.0 1132.7 L1218.5 1135.1 L1220.0 1137.9 L1221.5 1133.7 L1223.0 1134.9 L1224.5 1134.1 L1226.0 1136.3 L1227.5 1134.8 L1229.0 1131.5 L1230.5 1136.6 L1232.0 1133.3 L1233.5 1131.4 L1235.0 1131.9 L1236.5 1132.7 L1238.0 1134.2 L1239.5 1131.6 L1241.0 1130.6 L1242.5 1134.0 L1244.0 1134.2 L1245.5 1130.6 L1247.0 1131.2 L1248.5 1131.4 L1250.0 1130.5 L1251.9 1131.0 L1253.8 1132.5 L1259.2 1123.2 L1260.7 1123.6 L1262.1 1129.1 L1263.6 1127.3 L1265.0 1131.2 L1266.4 1128.6 L1267.9 1133.6 L1269.3 1135.2 L1270.7 1135.3 L1272.1 1133.1 L1273.6 1134.7 L1275.0 1135.8 L1276.4 1134.4 L1277.9 1135.9 L1279.3 1133.1 L1280.7 1136.4 L1282.1 1140.8 L1283.6 1136.9 L1285.0 1139.5 L1288.8 1130.8 L1290.2 1132.4 L1291.8 1128.3 L1293.2 1123.0 L1294.8 1126.8 L1296.2 1123.8 L1297.9 1120.5 L1299.6 1121.7 L1301.2 1119.2 L1305.0 1132.5 L1308.8 1150.0 L1313.8 1167.5 L1318.8 1187.5 L1322.5 1196.2 L1324.0 1193.7 L1325.5 1191.6 L1327.5 1185.9 L1329.6 1178.3 L1330.5 1164.4 L1331.4 1144.2 L1331.9 1088.6 L1332.8 981.2 L1335.4 750.0 L1336.9 774.2 L1337.6 995.4 L1338.4 1097.2 L1339.5 1160.8 L1340.5 1192.6 L1342.5 1210.4 L1345.0 1218.0 L1346.3 1217.8 L1347.5 1218.2 L1349.2 1218.6 L1350.8 1218.0 L1352.5 1220.0 L1353.9 1218.8 L1355.4 1218.9 L1356.8 1220.8 L1358.2 1218.0 L1359.6 1218.6 L1361.1 1218.3 L1362.5 1217.5 L1364.1 1218.7 L1365.6 1216.9 L1367.2 1217.3 L1368.8 1215.9 L1370.3 1219.5 L1371.9 1214.9 L1373.4 1216.7 L1375.0 1216.2 L1376.5 1215.7 L1378.0 1216.1 L1379.5 1215.2 L1381.0 1215.1 L1382.5 1216.5 L1384.0 1216.3 L1385.5 1215.0 L1387.0 1214.7 L1388.5 1214.9 L1390.0 1214.5 L1391.4 1214.8 L1392.9 1215.7 L1394.3 1216.4 L1395.7 1216.5 L1397.1 1214.6 L1398.6 1216.6 L1400.0 1217.0 L1401.5 1215.8 L1403.0 1217.3 L1404.5 1216.5 L1406.0 1217.0 L1407.5 1216.5 L1409.0 1217.6 L1410.5 1218.0 L1412.0 1216.6 L1413.5 1214.7 L1415.0 1216.2 L1416.4 1215.9 L1417.9 1217.7 L1419.3 1214.4 L1420.7 1214.8 L1422.1 1217.2 L1423.6 1216.0 L1425.0 1213.8 L1426.5 1214.2 L1428.0 1213.5 L1429.5 1211.5 L1431.0 1214.6 L1432.5 1213.5 L1434.0 1210.4 L1435.5 1211.9 L1437.0 1211.6 L1438.5 1211.4 L1440.0 1211.2 L1441.5 1210.9 L1443.0 1214.9 L1444.5 1211.5 L1446.0 1214.5 L1447.5 1213.2 L1449.1 1213.3 L1450.6 1211.8 L1452.2 1211.6 L1453.8 1211.2 L1455.3 1208.8 L1456.9 1208.5 L1458.4 1209.7 L1460.0 1207.5 L1461.4 1208.9 L1462.9 1208.5 L1464.3 1206.9 L1465.7 1206.6 L1467.1 1210.5 L1468.6 1210.7 L1470.0 1209.2 L1471.4 1209.5 L1472.9 1209.0 L1474.3 1207.8 L1475.7 1208.4 L1477.1 1208.9 L1478.6 1208.0 L1480.0 1206.8 L1481.5 1205.5 L1483.0 1206.0 L1484.5 1204.3 L1486.0 1204.3 L1487.5 1203.8 L1489.1 1202.5 L1490.6 1201.1 L1492.2 1202.8 L1493.8 1204.4 L1495.3 1203.3 L1496.9 1205.0 L1498.4 1203.8 L1500.0 1204.5 L1501.6 1204.6 L1503.1 1203.5 L1504.7 1205.5 L1506.2 1203.0 L1507.8 1203.3 L1509.4 1204.4 L1510.9 1204.6 L1512.5 1202.5 L1514.0 1200.3 L1515.5 1202.7 L1517.0 1198.7 L1518.5 1197.9 L1520.0 1198.2 L1521.4 1197.1 L1522.9 1199.3 L1524.3 1196.6 L1525.7 1198.6 L1527.1 1198.3 L1528.6 1197.4 L1530.0 1197.5 L1531.5 1197.5 L1533.0 1199.0 L1534.5 1197.8 L1536.0 1194.1 L1537.5 1194.5 L1539.0 1195.0 L1540.5 1194.2 L1542.0 1194.7 L1543.5 1194.2 L1545.0 1195.0 L1546.5 1194.9 L1548.0 1192.2 L1549.5 1190.9 L1551.0 1191.7 L1552.5 1190.8 L1554.0 1192.3 L1555.5 1194.6 L1557.0 1195.0 L1558.5 1194.1 L1560.0 1196.2 L1561.4 1195.7 L1562.9 1197.8 L1564.3 1198.2 L1565.7 1199.4 L1567.1 1200.6 L1568.6 1196.7 L1570.0 1200.0 L1571.4 1200.0 L1572.9 1202.1 L1574.3 1200.9 L1575.7 1204.9 L1577.1 1203.5 L1578.6 1205.0 L1580.0 1205.0 L1581.4 1205.4 L1582.9 1206.7 L1584.3 1207.4 L1585.7 1208.3 L1587.1 1206.7 L1588.6 1206.7 L1590.0 1209.5 L1591.4 1209.9 L1592.9 1211.3 L1594.3 1210.5 L1595.7 1211.1 L1597.1 1212.9 L1598.6 1212.9 L1600.0 1212.5 L1601.4 1211.9 L1602.9 1213.6 L1604.3 1213.6 L1605.7 1214.3 L1607.1 1214.6 L1608.6 1215.8 L1610.0 1215.5 L1611.4 1215.6 L1612.9 1216.1 L1614.3 1215.9 L1615.7 1215.7 L1617.1 1215.5 L1618.6 1216.5 L1620.0 1216.2 L1621.4 1217.2 L1622.9 1218.9 L1624.3 1220.3 L1625.7 1217.4 L1627.1 1217.9 L1628.6 1220.2 L1630.0 1219.5 L1631.4 1219.5 L1632.9 1220.5 L1634.3 1219.5 L1635.7 1221.9 L1637.1 1220.2 L1638.6 1223.1 L1640.0 1222.5 L1641.5 1222.2 L1643.0 1223.8 L1644.5 1225.0 L1646.0 1223.7 L1647.5 1225.0 L1648.9 1224.6 L1650.4 1226.4 L1651.8 1222.6 L1653.2 1223.7 L1654.6 1221.3 L1656.1 1223.3 L1657.5 1222.5 L1658.9 1222.7 L1660.4 1222.1 L1661.8 1222.4 L1663.2 1225.2 L1664.6 1225.0 L1666.1 1223.5 L1667.5 1225.0 L1669.0 1226.0 L1670.5 1224.4 L1672.0 1224.7 L1673.5 1226.0 L1675.0 1225.8 L1676.5 1227.0 L1678.0 1229.0 L1679.5 1230.8 L1681.0 1230.6 L1682.5 1232.5 L1684.1 1234.6 L1685.6 1235.9 L1687.2 1235.8 L1688.8 1238.8 L1690.2 1240.4 L1691.8 1241.6 L1693.2 1241.8 L1694.9 1240.6 L1696.6 1241.2 L1698.2 1241.2 L1699.8 1240.5 L1701.2 1238.9 L1702.8 1236.3 L1704.2 1235.0 L1708.5 1225.0 L1711.0 1197.5 L1712.5 1160.0 L1713.8 1143.8 L1715.8 1210.0 L1717.5 1247.5 L1720.0 1256.2 L1721.4 1256.5 L1722.8 1256.8 L1724.2 1256.7 L1725.6 1257.7 L1727.0 1258.0 L1728.5 1258.9 L1730.0 1257.3 L1731.5 1257.9 L1733.0 1257.4 L1734.5 1258.5 L1736.0 1256.9 L1737.5 1258.1 L1739.0 1257.8 L1740.5 1257.2 L1742.0 1257.5 L1743.6 1257.5 L1745.2 1257.9 L1746.8 1258.8 L1748.4 1258.3 L1750.0 1258.9 L1751.5 1259.0 L1753.1 1258.7 L1754.7 1258.8 L1756.3 1258.9 L1757.9 1259.8 L1759.5 1259.2 L1761.0 1259.7 L1762.5 1259.5 L1764.0 1258.7 L1765.5 1258.7 L1767.0 1259.1 L1768.5 1258.6 L1770.0 1258.0 L1771.5 1257.8 L1773.0 1258.6 L1774.5 1258.2 L1776.1 1258.5 L1777.6 1258.3 L1779.2 1258.7 L1780.8 1257.2 L1782.3 1257.0 L1783.9 1257.8 L1785.4 1258.0 L1787.0 1257.5 L1788.7 1257.5 L1790.3 1258.5 L1792.0 1258.8 L1793.6 1258.8 L1795.1 1258.2 L1796.7 1257.9 L1798.2 1258.0 L1799.8 1257.9 L1801.4 1258.2 L1802.9 1257.5 L1804.5 1257.5 L1806.0 1257.1 L1807.5 1257.1 L1809.0 1257.5 L1810.5 1258.0 L1812.0 1257.4 L1813.5 1257.6 L1815.0 1258.1 L1816.5 1258.0 L1818.0 1258.9 L1819.5 1258.0 L1821.0 1258.1 L1822.5 1258.0 L1824.0 1258.5 L1825.5 1256.4 L1827.0 1256.3 L1828.5 1256.6 L1830.0 1256.8 L1831.5 1257.2 L1833.0 1256.8 L1834.5 1256.2 L1836.0 1256.1 L1837.5 1255.8 L1839.0 1256.9 L1840.5 1256.7 L1842.0 1257.0 L1843.6 1256.4 L1845.1 1256.2 L1846.7 1257.1 L1848.2 1256.5 L1849.8 1256.6 L1851.4 1256.4 L1852.9 1256.0 L1854.5 1256.2 L1856.0 1255.8 L1857.5 1255.4 L1859.0 1255.5 L1860.5 1254.9 L1862.0 1255.0 L1863.5 1255.0 L1865.0 1253.8 L1866.5 1254.2 L1868.0 1253.8 L1869.5 1253.7 L1871.0 1251.3 L1872.5 1253.1 L1874.0 1252.6 L1875.5 1251.8 L1877.0 1251.8 L1878.5 1252.1 L1879.9 1252.6 L1881.4 1252.5 L1882.8 1255.5 L1884.3 1254.3 L1885.8 1255.0 L1887.2 1256.0 L1888.8 1255.9 L1890.2 1257.0 L1891.8 1256.9 L1893.2 1258.8 L1894.8 1258.8 L1896.4 1258.6 L1897.9 1259.1 L1899.5 1259.2 L1901.0 1258.6 L1902.5 1258.2 L1904.0 1256.8 L1905.5 1256.0 L1907.5 1248.8 L1909.0 1233.8 L1910.8 1216.2 L1912.5 1233.8 L1914.0 1248.8 L1916.0 1255.0 L1917.8 1255.9 L1919.5 1258.0 L1921.2 1258.8 L1922.8 1260.4 L1924.5 1261.2 L1925.9 1261.9 L1927.4 1260.3 L1928.8 1260.7 L1930.2 1260.9 L1931.6 1261.2 L1933.1 1261.4 L1934.5 1261.2 L1935.9 1261.7 L1937.4 1261.3 L1938.8 1261.5 L1940.2 1260.7 L1941.6 1260.5 L1943.1 1260.1 L1944.5 1260.8 L1946.0 1261.0 L1947.5 1262.1 L1949.0 1262.5 L1950.5 1263.7 L1952.0 1263.8 L1953.4 1264.1 L1954.9 1264.4 L1956.3 1265.2 L1957.7 1265.2 L1959.1 1266.2 L1960.6 1266.6 L1962.0 1267.0 L1963.5 1267.7 L1965.0 1268.4 L1966.5 1269.1 L1968.0 1269.8 L1969.5 1270.5 L1971.0 1270.8 L1972.5 1271.1 L1974.0 1271.4 L1975.5 1271.7 L1977.0 1272.0 L1978.6 1271.6 L1980.1 1271.2 L1981.7 1270.9 L1983.2 1270.5 L1986.5 1260.0 L1988.8 1255.5 L1991.0 1263.8 L1993.2 1272.5 L1994.9 1272.6 L1996.5 1272.7 L1998.1 1272.8 L1999.7 1272.9 L2001.3 1273.0 L2002.9 1273.1 L2004.5 1273.2 L2006.0 1273.3 L2007.5 1273.3 L2009.0 1273.3 L2010.5 1273.3 L2012.0 1273.3 L2013.5 1273.3 L2015.0 1273.3 L2016.5 1273.3 L2018.0 1273.3 L2019.5 1273.3 L2021.0 1273.4 L2022.5 1273.4 L2024.0 1273.4 L2025.5 1273.4 L2027.0 1273.4 L2028.5 1273.4 L2030.0 1273.4 L2031.5 1273.4 L2033.0 1273.4 L2034.5 1273.5 L2036.0 1273.5 L2037.5 1273.5 L2039.0 1273.5 L2040.5 1273.5 L2042.0 1273.5 L2043.5 1273.6 L2045.0 1273.7 L2046.5 1273.7 L2048.0 1273.8 L2049.5 1273.9 L2051.0 1274.0 L2052.5 1274.0 L2054.0 1274.1 L2055.5 1274.2 L2057.0 1274.2 L2058.5 1274.2 L2060.0 1274.2 L2061.6 1274.2 L2063.1 1274.2 L2064.6 1274.1 L2066.1 1274.1 L2067.7 1274.1 L2069.2 1274.1 L2070.7 1274.1 L2072.2 1274.0 L2073.7 1274.0 L2075.3 1274.0 L2076.8 1274.0 L2078.3 1273.9 L2079.8 1273.9 L2081.3 1273.9 L2082.9 1273.9 L2084.4 1273.9 L2085.9 1273.8 L2087.4 1273.8 L2089.0 1273.8 L2090.5 1273.8 L2092.0 1273.8 L2093.5 1273.6 L2095.0 1273.5 L2096.5 1273.4 L2098.0 1273.2 L2099.5 1273.1 L2101.0 1273.0 L2102.5 1272.9 L2104.0 1272.8 L2105.5 1272.6 L2107.0 1272.5 L2108.4 1272.6 L2109.9 1272.8 L2111.3 1272.9 L2112.7 1273.1 L2114.1 1273.2 L2115.6 1273.4 L2117.0 1273.5 L2118.5 1273.5 L2120.1 1273.5 L2121.6 1273.5 L2123.2 1273.6 L2124.7 1273.6 L2126.3 1273.6 L2127.8 1273.6 L2129.4 1273.6 L2130.9 1273.6 L2132.4 1273.6 L2134.0 1273.7 L2135.5 1273.7 L2137.1 1273.7 L2138.6 1273.7 L2140.2 1273.7 L2141.7 1273.7 L2143.2 1273.8 L2145.2 1273.8"/></g>
<g clip-path="url(#plotB)"><path stroke="#ff00cc" filter="url(#crisp)" d="M238.0 1048.8 L240.0 1048.8 L241.5 1051.4 L243.0 1051.5 L244.5 1047.8 L246.0 1047.3 L247.5 1051.2 L249.1 1052.0 L250.6 1054.5 L252.2 1053.8 L253.8 1055.0 L255.3 1051.1 L256.9 1051.6 L258.4 1053.8 L260.0 1050.0 L261.5 1046.3 L263.0 1049.4 L264.5 1047.2 L266.0 1045.9 L267.5 1043.8 L269.0 1044.6 L270.5 1041.8 L272.0 1042.0 L273.5 1045.0 L275.0 1041.2 L276.5 1040.8 L278.0 1041.0 L279.5 1039.5 L281.0 1041.4 L282.5 1042.5 L284.1 1044.8 L285.6 1046.6 L287.2 1046.5 L288.8 1046.2 L293.8 1055.0 L295.3 1057.1 L296.9 1057.9 L298.4 1058.4 L300.0 1058.8 L305.0 1072.5 L312.5 1090.0 L314.0 1092.3 L315.5 1090.8 L317.0 1093.4 L318.5 1091.9 L320.0 1092.5 L321.7 1091.3 L323.3 1093.3 L325.0 1097.0 L326.5 1097.3 L328.0 1097.4 L329.5 1096.8 L331.0 1098.1 L332.5 1100.0 L333.9 1100.7 L335.4 1101.4 L336.8 1102.5 L338.2 1100.0 L339.6 1102.4 L341.1 1103.9 L342.5 1102.5 L344.1 1103.5 L345.6 1106.3 L347.2 1103.0 L348.8 1104.2 L350.3 1103.5 L351.9 1103.0 L353.4 1101.3 L355.0 1101.2 L356.4 1101.4 L357.9 1102.1 L359.3 1102.0 L360.7 1101.4 L362.1 1101.8 L363.6 1102.6 L365.0 1103.0 L366.4 1100.6 L367.9 1103.5 L369.3 1101.5 L370.7 1103.0 L372.1 1101.8 L373.6 1103.8 L375.0 1103.8 L376.5 1103.4 L377.9 1103.8 L379.4 1103.2 L380.8 1104.8 L382.3 1107.4 L383.8 1105.0 L385.3 1101.5 L386.9 1104.6 L388.4 1103.5 L390.0 1102.5 L391.4 1101.9 L392.9 1100.6 L394.3 1105.3 L395.7 1103.1 L397.1 1104.5 L398.6 1102.3 L400.0 1103.0 L401.4 1101.5 L402.9 1104.3 L404.3 1103.5 L405.7 1101.5 L407.1 1101.4 L408.6 1102.5 L410.0 1101.2 L411.4 1099.9 L412.9 1099.8 L414.3 1101.0 L415.7 1102.6 L417.1 1102.3 L418.6 1101.1 L420.0 1100.8 L421.4 1103.4 L422.9 1101.4 L424.3 1101.2 L425.7 1106.3 L427.1 1102.1 L428.6 1104.3 L430.0 1103.8 L431.6 1104.4 L433.1 1103.5 L434.7 1103.4 L436.2 1103.9 L437.8 1103.4 L439.4 1101.3 L440.9 1102.0 L442.5 1101.8 L444.0 1104.4 L445.5 1103.7 L447.0 1102.3 L448.5 1103.5 L450.0 1103.8 L451.4 1102.0 L452.9 1101.3 L454.3 1102.4 L455.7 1105.6 L457.1 1101.9 L458.6 1099.5 L460.0 1102.5 L461.4 1102.3 L462.9 1101.4 L464.3 1103.7 L465.7 1104.5 L467.1 1102.0 L468.6 1102.7 L470.0 1102.5 L471.6 1100.8 L473.1 1104.0 L474.7 1100.6 L476.2 1101.6 L477.8 1105.1 L479.4 1099.5 L480.9 1101.0 L482.5 1100.5 L483.9 1100.8 L485.4 1102.0 L486.8 1102.4 L488.2 1104.4 L489.6 1103.1 L491.1 1103.6 L492.5 1103.0 L493.9 1101.3 L495.4 1104.1 L496.8 1101.5 L498.2 1105.8 L499.6 1104.0 L501.1 1105.9 L502.5 1104.5 L504.1 1102.8 L505.7 1103.1 L507.3 1102.0 L508.9 1101.9 L510.5 1099.9 L512.1 1098.2 L513.8 1098.2 L515.2 1098.2 L516.7 1098.2 L518.1 1098.3 L519.6 1098.3 L521.0 1098.4 L522.5 1101.2 L523.9 1104.5 L525.4 1100.4 L526.8 1100.0 L528.2 1103.6 L529.6 1102.6 L531.1 1102.1 L532.5 1102.5 L534.1 1104.4 L535.6 1105.5 L537.2 1101.2 L538.8 1104.8 L540.3 1103.5 L541.9 1104.4 L543.4 1101.7 L545.0 1102.5 L546.4 1104.7 L547.9 1103.3 L549.3 1096.7 L550.7 1102.5 L552.1 1102.0 L553.6 1097.0 L555.0 1098.8 L556.7 1100.3 L558.3 1100.5 L560.0 1101.8 L561.5 1101.2 L563.0 1098.5 L564.5 1100.0 L566.0 1099.2 L567.5 1097.0 L568.9 1096.9 L570.4 1097.1 L571.8 1094.4 L573.2 1098.2 L574.6 1095.3 L576.1 1097.5 L577.5 1097.5 L578.9 1095.8 L580.4 1101.1 L581.8 1096.5 L583.2 1098.6 L584.6 1095.7 L586.1 1095.3 L587.5 1095.0 L589.0 1095.8 L590.4 1094.1 L591.9 1097.7 L593.3 1093.1 L594.8 1095.7 L596.2 1092.5 L597.8 1091.9 L599.4 1093.8 L600.9 1097.7 L602.5 1098.0 L604.0 1095.2 L605.5 1100.1 L607.0 1097.1 L608.5 1095.8 L610.0 1095.0 L611.5 1096.5 L613.0 1091.2 L614.5 1089.3 L616.0 1084.6 L617.5 1087.5 L619.2 1083.5 L620.8 1085.7 L622.5 1085.5 L624.2 1083.5 L625.8 1089.8 L627.5 1090.0 L632.5 1101.2 L634.2 1104.3 L635.8 1104.8 L637.5 1105.5 L639.0 1102.3 L640.5 1102.9 L642.0 1101.5 L643.5 1104.3 L645.0 1102.5 L648.8 1085.0 L652.5 1072.5 L656.2 1066.2 L660.0 1085.0 L665.0 1105.0 L670.0 1120.0 L675.0 1135.0 L676.6 1137.5 L678.1 1136.8 L679.7 1138.3 L681.2 1139.2 L682.7 1139.4 L684.2 1139.9 L685.6 1137.4 L687.1 1137.1 L688.5 1139.3 L690.0 1138.0 L691.4 1138.8 L692.9 1138.9 L694.3 1138.4 L695.7 1139.5 L697.1 1139.2 L698.6 1137.8 L700.0 1138.8 L701.6 1141.0 L703.1 1140.1 L704.7 1138.2 L706.2 1138.3 L707.8 1137.3 L709.4 1136.3 L710.9 1136.7 L712.5 1138.0 L714.1 1136.1 L715.6 1137.1 L717.2 1138.5 L718.8 1137.9 L720.3 1136.1 L721.9 1137.7 L723.4 1137.2 L725.0 1138.0 L726.5 1136.8 L728.0 1140.1 L729.5 1137.5 L731.0 1140.4 L732.5 1139.5 L734.0 1136.8 L735.5 1139.1 L737.0 1137.4 L738.5 1139.2 L740.0 1137.5 L741.5 1138.0 L743.0 1136.2 L744.6 1138.1 L746.1 1138.8 L747.6 1138.8 L749.1 1138.9 L750.7 1136.3 L752.2 1139.6 L753.7 1135.7 L755.2 1136.2 L756.7 1134.2 L758.3 1135.9 L759.8 1134.1 L761.3 1136.2 L762.8 1133.4 L764.3 1138.4 L765.9 1136.8 L767.4 1137.8 L768.9 1137.1 L770.4 1135.6 L772.0 1135.9 L773.5 1135.4 L775.0 1135.0 L776.5 1132.3 L778.0 1133.2 L779.5 1134.3 L781.0 1136.1 L782.5 1132.7 L784.0 1134.9 L785.5 1133.7 L787.0 1135.5 L788.5 1135.5 L790.0 1132.9 L791.5 1132.7 L793.0 1136.3 L794.5 1135.6 L796.0 1134.0 L797.5 1135.2 L799.0 1134.0 L800.5 1134.5 L802.0 1133.2 L803.5 1134.5 L805.0 1136.0 L806.5 1135.6 L808.0 1135.3 L809.5 1133.6 L811.0 1134.7 L812.5 1133.2 L814.1 1132.6 L815.6 1132.7 L817.2 1133.3 L818.8 1131.4 L820.3 1133.2 L821.9 1130.4 L823.4 1135.1 L825.0 1133.9 L826.6 1133.0 L828.1 1131.5 L829.7 1131.6 L831.2 1131.8 L832.8 1129.9 L834.4 1131.6 L835.9 1130.8 L837.5 1132.0 L839.0 1133.2 L840.5 1133.8 L842.0 1133.9 L843.5 1129.8 L845.0 1129.7 L846.5 1133.6 L848.0 1132.6 L849.5 1132.9 L851.0 1132.3 L852.5 1131.6 L854.0 1134.2 L855.5 1132.3 L857.0 1132.0 L858.5 1129.5 L860.0 1131.1 L861.5 1132.7 L863.0 1131.5 L864.5 1131.9 L866.0 1130.2 L867.5 1131.5 L869.0 1129.5 L870.5 1130.0 L872.0 1131.7 L873.5 1132.6 L875.0 1130.0 L876.5 1129.4 L878.0 1129.5 L879.5 1129.3 L881.0 1129.3 L882.5 1129.5 L884.0 1130.6 L885.5 1129.7 L887.0 1129.0 L888.5 1129.6 L890.0 1126.2 L891.5 1128.4 L893.0 1131.4 L894.5 1126.9 L896.0 1127.4 L897.5 1128.5 L899.0 1129.5 L900.5 1127.5 L902.0 1126.2 L903.5 1129.9 L905.0 1124.1 L906.5 1126.1 L908.0 1126.2 L909.5 1123.7 L911.0 1129.0 L912.5 1129.8 L914.0 1124.5 L915.5 1126.0 L917.0 1126.2 L918.5 1127.4 L920.0 1126.2 L921.5 1125.7 L923.0 1126.6 L924.5 1126.2 L926.0 1125.1 L927.5 1125.1 L929.0 1126.9 L930.5 1124.8 L932.0 1125.2 L933.5 1124.0 L935.0 1124.8 L936.5 1126.0 L938.0 1123.4 L939.5 1122.3 L941.0 1121.7 L942.5 1124.1 L944.0 1121.1 L945.5 1122.7 L947.0 1125.6 L948.5 1121.9 L950.0 1121.2 L951.6 1124.0 L953.1 1121.3 L954.7 1121.1 L956.2 1122.2 L957.8 1119.9 L959.4 1117.6 L960.9 1121.2 L962.5 1120.2 L964.1 1121.6 L965.6 1124.3 L967.2 1122.2 L968.8 1118.9 L970.3 1121.9 L971.9 1118.6 L973.4 1118.0 L975.0 1121.2 L976.5 1124.5 L978.0 1119.8 L979.5 1117.8 L981.1 1121.0 L982.6 1120.8 L984.1 1121.8 L985.6 1120.7 L987.1 1120.7 L988.6 1122.2 L990.2 1120.6 L991.7 1119.7 L993.2 1121.4 L994.7 1119.9 L996.2 1122.4 L997.7 1120.8 L999.2 1120.4 L1000.8 1120.0 L1002.3 1121.5 L1003.8 1122.1 L1005.3 1120.1 L1006.8 1117.1 L1008.3 1121.7 L1009.8 1119.2 L1011.4 1121.3 L1012.9 1119.4 L1014.4 1120.9 L1015.9 1119.9 L1017.4 1119.0 L1018.9 1118.2 L1020.5 1120.0 L1022.0 1120.3 L1023.5 1117.5 L1025.0 1120.0 L1026.5 1116.1 L1028.0 1120.1 L1029.5 1122.9 L1031.0 1118.1 L1032.5 1118.7 L1034.0 1117.3 L1035.5 1116.8 L1037.0 1120.9 L1038.5 1115.8 L1040.0 1118.6 L1041.5 1116.9 L1043.0 1118.8 L1044.5 1120.2 L1046.0 1117.8 L1047.5 1116.9 L1049.0 1118.9 L1050.5 1116.5 L1052.0 1113.9 L1053.5 1118.7 L1055.0 1115.6 L1056.5 1116.6 L1058.0 1119.6 L1059.5 1117.4 L1061.0 1116.2 L1062.5 1115.5 L1064.0 1118.1 L1065.5 1113.9 L1067.0 1112.5 L1068.5 1113.2 L1070.0 1115.1 L1071.5 1115.2 L1073.0 1113.6 L1074.5 1118.0 L1076.0 1115.8 L1077.5 1114.6 L1079.0 1113.1 L1080.5 1114.0 L1082.0 1114.5 L1083.5 1113.3 L1085.0 1118.4 L1086.5 1116.4 L1088.0 1114.6 L1089.5 1113.4 L1091.0 1110.5 L1092.5 1114.9 L1094.0 1111.9 L1095.5 1114.6 L1097.0 1113.5 L1098.5 1110.5 L1100.0 1112.5 L1101.5 1112.6 L1103.0 1112.1 L1104.5 1112.0 L1106.0 1112.1 L1107.5 1112.4 L1109.0 1111.8 L1110.5 1113.4 L1112.0 1112.9 L1113.5 1111.7 L1115.0 1111.6 L1116.5 1111.3 L1118.0 1111.1 L1119.5 1111.4 L1121.0 1111.9 L1122.5 1111.0 L1124.0 1108.4 L1125.5 1111.5 L1127.0 1109.8 L1128.5 1111.2 L1130.0 1115.2 L1131.5 1112.7 L1133.0 1107.1 L1134.5 1108.1 L1136.0 1112.5 L1137.5 1110.8 L1139.0 1109.4 L1140.5 1108.1 L1142.0 1107.7 L1143.5 1110.2 L1145.0 1109.1 L1146.5 1110.3 L1148.0 1109.7 L1149.5 1110.2 L1151.0 1109.4 L1152.5 1108.7 L1154.0 1111.1 L1155.5 1112.4 L1157.0 1108.3 L1158.5 1109.4 L1160.0 1112.9 L1161.5 1107.7 L1163.0 1107.6 L1164.5 1110.2 L1166.0 1110.7 L1167.5 1109.2 L1169.0 1111.0 L1170.5 1108.8 L1172.0 1109.3 L1173.5 1108.8 L1175.0 1108.8 L1176.5 1109.2 L1178.0 1108.6 L1179.5 1110.9 L1181.0 1109.6 L1182.5 1111.0 L1184.0 1107.9 L1185.5 1106.8 L1187.0 1107.0 L1188.5 1107.2 L1190.0 1108.3 L1191.5 1107.0 L1193.0 1108.0 L1194.5 1108.2 L1196.0 1105.5 L1197.5 1105.0 L1199.0 1109.4 L1200.5 1106.0 L1202.0 1110.1 L1203.5 1106.4 L1205.0 1104.5 L1206.5 1104.7 L1208.0 1105.3 L1209.5 1110.8 L1211.0 1103.3 L1212.5 1106.2 L1214.0 1102.1 L1215.5 1104.1 L1217.0 1105.5 L1218.5 1108.8 L1220.0 1106.5 L1221.5 1102.9 L1223.0 1106.8 L1224.5 1106.1 L1226.0 1102.5 L1227.5 1104.3 L1229.0 1103.6 L1230.5 1102.4 L1232.0 1101.6 L1233.5 1101.1 L1235.0 1102.5 L1236.5 1100.6 L1238.0 1102.7 L1239.5 1102.0 L1241.0 1097.9 L1242.5 1101.0 L1244.0 1099.7 L1245.5 1101.0 L1247.0 1098.8 L1248.5 1101.1 L1250.0 1098.8 L1251.4 1099.6 L1252.9 1099.1 L1254.3 1098.0 L1255.7 1094.0 L1257.1 1095.6 L1258.6 1097.1 L1260.0 1094.5 L1261.5 1096.5 L1263.0 1096.3 L1264.5 1095.6 L1266.0 1095.8 L1267.5 1096.2 L1269.0 1095.2 L1270.5 1095.7 L1272.0 1099.7 L1273.5 1102.7 L1275.0 1102.5 L1276.4 1102.8 L1277.9 1103.1 L1279.3 1104.4 L1280.7 1107.6 L1282.1 1105.1 L1283.6 1106.7 L1285.0 1107.5 L1286.5 1105.9 L1288.0 1104.8 L1289.5 1101.5 L1291.0 1097.7 L1292.5 1096.2 L1294.0 1094.1 L1295.5 1091.6 L1297.0 1091.9 L1298.5 1092.6 L1300.0 1089.5 L1305.0 1105.0 L1310.0 1120.0 L1315.0 1135.0 L1320.0 1150.0 L1322.5 1154.2 L1324.0 1152.5 L1325.5 1150.2 L1327.5 1145.4 L1329.6 1139.0 L1330.5 1127.2 L1331.4 1110.0 L1331.9 1062.7 L1332.8 971.5 L1335.4 775.0 L1336.9 795.4 L1337.6 982.7 L1338.4 1068.8 L1339.5 1122.6 L1340.5 1149.5 L1342.5 1164.5 L1345.0 1171.0 L1346.3 1170.7 L1347.5 1171.2 L1349.0 1170.2 L1350.5 1171.1 L1352.0 1172.5 L1353.5 1172.5 L1355.0 1172.4 L1356.5 1173.0 L1358.0 1173.5 L1359.5 1172.5 L1361.0 1173.1 L1362.5 1172.5 L1364.1 1170.3 L1365.6 1172.9 L1367.2 1171.7 L1368.8 1172.2 L1370.3 1170.8 L1371.9 1171.3 L1373.4 1170.2 L1375.0 1171.2 L1376.5 1171.0 L1378.0 1169.7 L1379.5 1171.7 L1381.0 1169.9 L1382.5 1170.2 L1384.0 1169.1 L1385.5 1169.4 L1387.0 1168.5 L1388.5 1168.1 L1390.0 1168.8 L1391.6 1169.6 L1393.1 1168.6 L1394.7 1168.4 L1396.2 1169.6 L1397.8 1172.8 L1399.4 1171.8 L1400.9 1171.2 L1402.5 1171.2 L1404.0 1171.2 L1405.5 1170.9 L1407.0 1170.6 L1408.5 1172.3 L1410.0 1171.1 L1411.5 1169.2 L1413.0 1166.8 L1414.5 1167.3 L1416.0 1168.2 L1417.5 1167.5 L1419.0 1166.9 L1420.5 1167.8 L1422.0 1166.8 L1423.5 1167.6 L1425.0 1167.4 L1426.5 1166.3 L1428.0 1165.2 L1429.5 1166.2 L1431.0 1165.6 L1432.5 1166.2 L1434.1 1165.1 L1435.7 1166.1 L1437.3 1167.2 L1438.9 1165.3 L1440.5 1165.1 L1442.0 1164.1 L1443.6 1165.5 L1445.2 1165.3 L1446.8 1165.1 L1448.4 1166.5 L1450.0 1164.5 L1451.6 1164.6 L1453.1 1165.1 L1454.7 1163.2 L1456.2 1163.8 L1457.8 1162.0 L1459.4 1163.6 L1460.9 1164.1 L1462.5 1162.0 L1464.1 1161.1 L1465.6 1161.4 L1467.2 1162.8 L1468.8 1162.6 L1470.3 1163.7 L1471.9 1159.7 L1473.4 1162.3 L1475.0 1163.0 L1476.6 1163.3 L1478.1 1162.6 L1479.7 1160.7 L1481.2 1162.4 L1482.8 1161.4 L1484.4 1160.9 L1485.9 1160.2 L1487.5 1160.0 L1489.1 1159.6 L1490.6 1160.0 L1492.2 1157.3 L1493.8 1154.4 L1495.3 1159.0 L1496.9 1154.8 L1498.4 1157.7 L1500.0 1157.0 L1501.6 1157.0 L1503.1 1157.3 L1504.7 1155.4 L1506.2 1157.4 L1507.8 1156.2 L1509.4 1155.9 L1510.9 1156.1 L1512.5 1156.2 L1514.1 1154.7 L1515.6 1157.3 L1517.2 1153.9 L1518.8 1154.2 L1520.3 1153.2 L1521.9 1153.4 L1523.4 1152.6 L1525.0 1152.0 L1526.6 1151.2 L1528.1 1151.1 L1529.7 1150.8 L1531.2 1150.3 L1532.8 1150.9 L1534.4 1148.9 L1535.9 1148.4 L1537.5 1148.0 L1539.1 1148.7 L1540.6 1147.8 L1542.2 1148.4 L1543.8 1148.6 L1545.3 1144.8 L1546.9 1147.8 L1548.4 1147.1 L1550.0 1147.5 L1551.5 1145.1 L1552.9 1145.1 L1554.4 1144.4 L1555.8 1147.2 L1557.3 1147.0 L1558.8 1145.0 L1562.5 1151.2 L1564.1 1151.9 L1565.6 1152.3 L1567.2 1151.5 L1568.8 1156.1 L1570.3 1155.9 L1571.9 1154.8 L1573.4 1154.0 L1575.0 1155.5 L1576.6 1156.2 L1578.1 1156.3 L1579.7 1156.4 L1581.2 1157.4 L1582.8 1158.4 L1584.4 1159.4 L1585.9 1161.5 L1587.5 1161.8 L1589.1 1161.1 L1590.6 1163.2 L1592.2 1163.3 L1593.8 1164.6 L1595.3 1165.4 L1596.9 1166.9 L1598.4 1165.8 L1600.0 1165.0 L1601.6 1165.4 L1603.1 1166.4 L1604.7 1170.6 L1606.2 1167.0 L1607.8 1169.1 L1609.4 1171.1 L1610.9 1170.5 L1612.5 1171.2 L1614.1 1172.0 L1615.6 1173.6 L1617.2 1172.7 L1618.8 1172.0 L1620.3 1172.7 L1621.9 1172.6 L1623.4 1173.1 L1625.0 1172.5 L1626.6 1173.7 L1628.1 1173.2 L1629.7 1174.1 L1631.2 1174.7 L1632.8 1174.7 L1634.4 1174.8 L1635.9 1176.8 L1637.5 1176.2 L1639.1 1174.4 L1640.6 1176.7 L1642.2 1178.3 L1643.8 1177.9 L1645.3 1176.7 L1646.9 1177.2 L1648.4 1180.5 L1650.0 1178.8 L1651.6 1179.4 L1653.1 1178.6 L1654.7 1178.7 L1656.2 1178.3 L1657.8 1178.9 L1659.4 1177.6 L1660.9 1178.5 L1662.5 1178.2 L1664.1 1178.5 L1665.7 1179.0 L1667.3 1180.0 L1668.9 1177.5 L1670.5 1179.5 L1672.1 1180.0 L1673.8 1180.0 L1675.3 1182.1 L1676.9 1183.8 L1678.4 1186.0 L1680.0 1187.5 L1681.5 1190.0 L1683.0 1190.2 L1684.5 1192.2 L1686.0 1194.2 L1687.5 1195.0 L1688.9 1195.7 L1690.3 1197.3 L1691.7 1196.8 L1693.1 1198.9 L1694.5 1198.8 L1696.1 1198.1 L1697.6 1198.0 L1699.2 1197.1 L1700.8 1195.0 L1706.8 1185.0 L1709.2 1165.0 L1711.5 1135.0 L1713.8 1096.2 L1715.8 1160.0 L1717.5 1205.0 L1719.5 1215.0 L1721.0 1214.9 L1722.5 1215.9 L1724.0 1216.0 L1725.5 1216.1 L1727.0 1216.2 L1728.5 1216.0 L1730.0 1216.2 L1731.5 1215.8 L1733.0 1215.8 L1734.5 1215.7 L1736.0 1215.6 L1737.5 1215.3 L1739.0 1214.7 L1740.5 1215.2 L1742.0 1215.0 L1743.6 1213.9 L1745.1 1215.4 L1746.7 1215.4 L1748.2 1215.6 L1749.8 1215.6 L1751.4 1216.1 L1752.9 1216.3 L1754.5 1216.2 L1756.1 1216.2 L1757.6 1216.2 L1759.2 1216.2 L1760.8 1216.2 L1762.3 1216.9 L1763.9 1216.8 L1765.4 1217.4 L1767.0 1217.0 L1768.5 1216.3 L1770.0 1216.2 L1771.5 1216.5 L1773.0 1216.0 L1774.5 1216.1 L1776.0 1215.5 L1777.5 1216.1 L1779.0 1215.3 L1780.5 1215.4 L1782.0 1215.0 L1783.5 1215.5 L1785.0 1214.6 L1786.5 1215.0 L1788.0 1214.8 L1789.5 1215.6 L1791.0 1214.6 L1792.5 1215.2 L1794.0 1215.2 L1795.5 1215.8 L1797.0 1215.5 L1798.5 1216.1 L1800.0 1215.4 L1801.5 1216.1 L1803.0 1215.6 L1804.5 1214.7 L1806.0 1215.1 L1807.5 1214.8 L1809.0 1215.4 L1810.5 1215.2 L1812.0 1215.0 L1813.5 1215.1 L1815.0 1214.6 L1816.5 1214.8 L1818.0 1214.3 L1819.5 1214.7 L1821.0 1215.3 L1822.5 1214.6 L1824.0 1215.2 L1825.5 1214.6 L1827.0 1214.5 L1828.5 1214.3 L1830.0 1214.6 L1831.5 1213.7 L1833.0 1214.9 L1834.5 1214.2 L1836.0 1213.6 L1837.5 1214.3 L1839.0 1213.5 L1840.5 1214.2 L1842.0 1213.8 L1843.5 1214.4 L1845.0 1214.3 L1846.5 1213.5 L1848.0 1213.9 L1849.5 1214.6 L1851.0 1214.4 L1852.5 1214.5 L1854.0 1215.4 L1855.5 1214.9 L1857.0 1214.5 L1858.4 1214.2 L1859.9 1213.7 L1861.3 1213.7 L1862.7 1213.2 L1864.1 1213.3 L1865.6 1213.5 L1867.0 1213.2 L1868.6 1212.3 L1870.2 1212.6 L1871.8 1211.9 L1873.4 1212.1 L1875.0 1210.8 L1876.6 1210.7 L1878.2 1210.8 L1879.7 1211.2 L1881.2 1211.8 L1882.6 1211.9 L1884.1 1210.9 L1885.5 1212.5 L1887.0 1213.0 L1888.5 1212.8 L1890.0 1214.2 L1891.5 1214.5 L1893.0 1215.2 L1894.5 1216.2 L1896.2 1216.3 L1897.8 1216.9 L1899.5 1217.0 L1901.0 1216.2 L1902.5 1215.6 L1904.0 1214.6 L1905.5 1213.8 L1907.5 1207.5 L1909.0 1195.0 L1910.8 1180.0 L1912.5 1195.0 L1914.0 1208.8 L1916.0 1214.5 L1917.6 1215.2 L1919.2 1216.6 L1920.8 1217.0 L1922.4 1217.9 L1924.0 1217.3 L1925.6 1217.8 L1927.2 1217.6 L1928.8 1218.3 L1930.4 1218.2 L1932.0 1218.8 L1933.6 1218.9 L1935.1 1218.4 L1936.7 1218.2 L1938.2 1218.2 L1939.8 1217.8 L1941.4 1216.5 L1942.9 1217.8 L1944.5 1217.0 L1946.0 1218.1 L1947.5 1218.2 L1949.0 1219.1 L1950.5 1219.5 L1952.0 1220.0 L1953.4 1220.2 L1954.9 1220.8 L1956.3 1221.8 L1957.7 1222.2 L1959.1 1222.7 L1960.6 1223.2 L1962.0 1223.8 L1963.4 1224.2 L1964.9 1224.7 L1966.3 1225.1 L1967.7 1225.6 L1969.1 1226.1 L1970.6 1226.5 L1972.0 1227.0 L1973.5 1227.0 L1975.0 1227.0 L1976.5 1227.0 L1978.0 1227.0 L1979.5 1227.0 L1980.9 1226.2 L1982.2 1225.4 L1983.6 1224.6 L1985.0 1223.8 L1987.0 1216.2 L1989.0 1213.8 L1991.0 1220.0 L1993.2 1228.0 L1994.9 1228.1 L1996.5 1228.1 L1998.1 1228.2 L1999.7 1228.3 L2001.3 1228.4 L2002.9 1228.4 L2004.5 1228.5 L2006.0 1228.5 L2007.5 1228.5 L2009.0 1228.5 L2010.5 1228.5 L2012.0 1228.5 L2013.5 1228.5 L2015.0 1228.5 L2016.5 1228.5 L2018.0 1228.5 L2019.5 1228.5 L2021.0 1228.5 L2022.5 1228.5 L2024.0 1228.5 L2025.5 1228.5 L2027.0 1228.5 L2028.5 1228.5 L2030.0 1228.5 L2031.5 1228.5 L2033.0 1228.5 L2034.5 1228.5 L2036.0 1228.5 L2037.5 1228.5 L2039.0 1228.5 L2040.5 1228.5 L2042.0 1228.5 L2043.5 1228.5 L2045.0 1228.5 L2046.5 1228.5 L2048.1 1228.5 L2049.6 1228.5 L2051.1 1228.5 L2052.6 1228.5 L2054.1 1228.5 L2055.6 1228.5 L2057.2 1228.5 L2058.7 1228.5 L2060.2 1228.5 L2061.7 1228.5 L2063.2 1228.5 L2064.7 1228.5 L2066.2 1228.5 L2067.8 1228.5 L2069.3 1228.5 L2070.8 1228.5 L2072.3 1228.5 L2073.8 1228.5 L2075.3 1228.5 L2076.8 1228.5 L2078.4 1228.5 L2079.9 1228.5 L2081.4 1228.5 L2082.9 1228.5 L2084.4 1228.5 L2085.9 1228.5 L2087.5 1228.5 L2089.0 1228.5 L2090.5 1228.5 L2092.0 1228.5 L2093.5 1228.4 L2095.0 1228.3 L2096.5 1228.2 L2098.0 1228.1 L2099.5 1228.0 L2101.0 1227.9 L2102.5 1227.8 L2104.0 1227.7 L2105.5 1227.6 L2107.0 1227.5 L2108.4 1227.6 L2109.9 1227.8 L2111.3 1227.9 L2112.7 1228.1 L2114.1 1228.2 L2115.6 1228.4 L2117.0 1228.5 L2118.5 1228.5 L2120.1 1228.5 L2121.6 1228.5 L2123.2 1228.6 L2124.7 1228.6 L2126.3 1228.6 L2127.8 1228.6 L2129.4 1228.6 L2130.9 1228.6 L2132.4 1228.6 L2134.0 1228.7 L2135.5 1228.7 L2137.1 1228.7 L2138.6 1228.7 L2140.2 1228.7 L2141.7 1228.7 L2143.2 1228.8 L2145.2 1228.8"/></g>
<g clip-path="url(#plotB)"><path stroke="#009900" filter="url(#crisp)" d="M238.0 1022.5 L240.0 1022.5 L241.4 1023.3 L242.9 1023.5 L244.3 1024.0 L245.7 1023.6 L247.1 1025.5 L248.6 1025.7 L250.0 1026.2 L251.5 1028.4 L252.9 1024.8 L254.4 1031.5 L255.8 1021.3 L257.3 1027.4 L258.8 1027.5 L260.2 1028.5 L261.7 1025.9 L263.1 1024.2 L264.6 1024.9 L266.0 1025.7 L267.5 1023.8 L269.0 1025.5 L270.5 1019.9 L272.0 1022.6 L273.5 1020.5 L275.0 1021.2 L276.7 1021.8 L278.3 1017.4 L280.0 1017.0 L281.7 1017.2 L283.3 1019.0 L285.0 1017.0 L286.7 1018.6 L288.3 1021.9 L290.0 1023.8 L295.0 1032.5 L300.0 1042.5 L305.0 1053.8 L307.5 1061.2 L309.4 1062.3 L311.2 1066.2 L313.8 1072.5 L315.3 1073.2 L316.9 1071.8 L318.4 1074.8 L320.0 1077.5 L321.5 1077.6 L323.0 1078.3 L324.5 1083.7 L326.0 1077.8 L327.5 1082.5 L329.0 1079.3 L330.5 1083.4 L332.0 1084.4 L333.5 1084.0 L335.0 1084.2 L336.5 1085.5 L338.0 1086.6 L339.5 1082.3 L341.0 1080.7 L342.5 1082.5 L344.0 1082.5 L345.5 1085.0 L347.0 1084.2 L348.5 1083.7 L350.0 1084.5 L351.5 1084.8 L353.0 1084.7 L354.5 1081.6 L356.0 1084.8 L357.5 1084.2 L359.0 1082.5 L360.5 1083.0 L362.0 1082.3 L363.5 1082.8 L365.0 1082.5 L366.5 1082.8 L368.0 1080.1 L369.5 1079.6 L371.0 1079.8 L372.5 1077.5 L374.0 1077.7 L375.5 1075.5 L377.0 1077.4 L378.5 1075.1 L380.0 1075.5 L381.4 1074.9 L382.9 1075.7 L384.3 1077.8 L385.7 1074.0 L387.1 1074.8 L388.6 1075.6 L390.0 1075.5 L391.5 1073.7 L393.0 1074.9 L394.5 1076.3 L396.0 1071.1 L397.5 1073.8 L399.0 1073.8 L400.5 1072.7 L402.0 1077.2 L403.5 1075.0 L405.0 1074.2 L406.5 1075.4 L408.0 1074.5 L409.5 1073.4 L411.0 1075.5 L412.5 1075.8 L414.2 1075.1 L415.8 1073.5 L417.5 1072.5 L418.9 1075.2 L420.4 1073.5 L421.8 1070.7 L423.2 1071.5 L424.6 1072.5 L426.1 1070.0 L427.5 1072.0 L429.0 1072.3 L430.5 1072.3 L432.0 1074.3 L433.5 1074.9 L435.0 1075.5 L436.7 1074.2 L438.3 1077.1 L440.0 1075.0 L441.5 1073.3 L443.0 1074.7 L444.5 1071.3 L446.0 1070.8 L447.5 1071.8 L449.0 1071.3 L450.5 1072.3 L452.0 1074.9 L453.5 1071.9 L455.0 1075.0 L456.5 1077.3 L458.0 1072.5 L459.5 1076.5 L461.0 1074.2 L462.5 1073.8 L464.0 1072.4 L465.5 1074.0 L467.0 1071.4 L468.5 1071.7 L470.0 1071.2 L471.5 1071.5 L473.0 1076.3 L474.5 1070.3 L476.0 1075.2 L477.5 1072.5 L478.9 1072.1 L480.4 1071.6 L481.8 1072.2 L483.2 1075.1 L484.6 1073.0 L486.1 1072.2 L487.5 1073.8 L489.1 1074.1 L490.6 1073.1 L492.2 1073.9 L493.8 1071.8 L495.3 1070.1 L496.9 1074.7 L498.4 1074.5 L500.0 1073.0 L501.4 1071.7 L502.9 1072.2 L504.3 1073.4 L505.7 1072.2 L507.1 1073.8 L508.6 1073.4 L510.0 1072.5 L511.7 1070.3 L513.3 1066.3 L515.0 1066.2 L516.6 1064.1 L518.1 1069.1 L519.7 1067.8 L521.2 1071.2 L522.8 1073.4 L524.4 1074.8 L525.9 1072.6 L527.5 1073.0 L529.0 1073.9 L530.5 1074.2 L532.0 1073.1 L533.5 1069.7 L535.0 1071.2 L536.4 1069.3 L537.9 1070.0 L539.3 1070.7 L540.7 1069.0 L542.1 1070.6 L543.6 1072.2 L545.0 1070.0 L546.5 1069.6 L548.0 1070.6 L549.5 1069.3 L551.0 1071.1 L552.5 1071.8 L554.1 1071.9 L555.6 1071.4 L557.2 1068.4 L558.8 1067.0 L560.3 1066.2 L561.9 1071.4 L563.4 1065.4 L565.0 1069.5 L566.5 1068.0 L568.0 1066.8 L569.5 1067.4 L571.0 1067.7 L572.5 1066.2 L574.2 1066.4 L575.8 1074.0 L577.5 1069.2 L579.2 1071.8 L580.8 1069.1 L582.5 1067.0 L584.1 1065.0 L585.6 1062.1 L587.2 1065.5 L588.8 1062.5 L590.3 1064.4 L591.9 1064.2 L593.4 1066.3 L595.0 1064.5 L596.6 1064.4 L598.1 1060.4 L599.7 1058.8 L601.2 1061.2 L602.8 1061.4 L604.4 1063.2 L605.9 1065.0 L607.5 1065.0 L609.0 1064.4 L610.5 1062.6 L612.0 1060.5 L613.5 1061.8 L615.0 1060.0 L616.5 1060.1 L618.0 1056.9 L619.5 1055.2 L621.0 1055.2 L622.5 1055.0 L624.2 1054.4 L625.8 1057.7 L627.5 1058.8 L629.2 1059.1 L630.8 1064.2 L632.5 1066.2 L634.2 1066.4 L635.8 1070.3 L637.5 1071.2 L639.1 1074.7 L640.6 1068.7 L642.2 1070.4 L643.8 1070.0 L647.5 1060.0 L651.2 1045.0 L652.7 1047.2 L654.1 1042.4 L655.5 1038.8 L658.8 1047.5 L661.2 1060.0 L666.2 1072.5 L671.2 1087.5 L676.2 1100.0 L678.1 1101.7 L680.0 1103.0 L681.5 1103.4 L683.0 1102.1 L684.5 1100.4 L686.0 1098.5 L687.5 1102.0 L688.9 1101.0 L690.4 1101.2 L691.8 1103.6 L693.2 1102.6 L694.6 1100.1 L696.1 1102.9 L697.5 1102.5 L699.0 1100.9 L700.5 1104.5 L702.0 1101.7 L703.5 1104.5 L705.0 1103.8 L706.4 1103.7 L707.9 1102.8 L709.3 1104.8 L710.7 1102.9 L712.1 1099.7 L713.6 1103.6 L715.0 1103.0 L716.5 1100.7 L718.0 1100.6 L719.5 1100.7 L721.0 1100.5 L722.5 1098.8 L723.9 1099.0 L725.4 1097.4 L726.8 1097.9 L728.2 1097.4 L729.6 1098.8 L731.1 1098.3 L732.5 1099.5 L734.0 1100.4 L735.5 1098.3 L737.0 1100.5 L738.5 1101.7 L740.0 1099.7 L741.5 1098.7 L743.0 1100.6 L744.5 1097.6 L746.0 1098.7 L747.5 1100.6 L749.0 1099.5 L750.5 1098.4 L752.0 1098.2 L753.5 1097.8 L755.0 1100.5 L756.5 1101.2 L758.0 1100.4 L759.5 1098.3 L761.0 1098.7 L762.5 1098.2 L764.0 1096.9 L765.5 1096.5 L767.0 1098.9 L768.5 1098.9 L770.0 1096.1 L771.5 1096.1 L773.0 1098.3 L774.5 1095.8 L776.0 1099.2 L777.5 1099.3 L779.0 1096.0 L780.5 1097.1 L782.0 1098.8 L783.5 1098.9 L785.0 1097.3 L786.5 1097.1 L788.0 1096.9 L789.5 1098.0 L791.0 1098.0 L792.5 1096.8 L794.0 1096.3 L795.5 1096.9 L797.0 1096.7 L798.5 1096.3 L800.0 1097.0 L801.5 1094.9 L803.0 1096.8 L804.5 1097.7 L806.1 1096.6 L807.6 1098.1 L809.1 1096.8 L810.6 1097.2 L812.1 1097.3 L813.6 1093.1 L815.2 1096.9 L816.7 1097.3 L818.2 1094.0 L819.7 1092.9 L821.2 1094.1 L822.7 1094.9 L824.2 1095.8 L825.8 1092.9 L827.3 1094.8 L828.8 1093.3 L830.3 1095.2 L831.8 1094.6 L833.3 1094.9 L834.8 1093.8 L836.4 1093.8 L837.9 1095.6 L839.4 1092.6 L840.9 1094.1 L842.4 1093.2 L843.9 1093.5 L845.5 1092.7 L847.0 1095.5 L848.5 1095.1 L850.0 1093.8 L851.5 1093.1 L853.0 1096.3 L854.5 1093.6 L856.1 1095.4 L857.6 1091.5 L859.1 1092.2 L860.6 1092.0 L862.1 1095.8 L863.6 1094.1 L865.2 1092.1 L866.7 1092.9 L868.2 1092.3 L869.7 1092.2 L871.2 1090.9 L872.7 1093.5 L874.2 1092.6 L875.8 1090.8 L877.3 1092.4 L878.8 1093.1 L880.3 1092.0 L881.8 1091.1 L883.3 1092.4 L884.8 1092.5 L886.4 1094.2 L887.9 1090.4 L889.4 1091.6 L890.9 1091.0 L892.4 1090.2 L893.9 1090.9 L895.5 1088.6 L897.0 1089.4 L898.5 1088.5 L900.0 1090.5 L901.5 1090.6 L903.0 1089.6 L904.5 1088.6 L906.0 1089.2 L907.5 1090.6 L909.0 1089.0 L910.5 1085.7 L912.0 1092.7 L913.5 1088.8 L915.0 1090.5 L916.5 1087.5 L918.0 1088.3 L919.5 1089.0 L921.0 1089.1 L922.5 1087.8 L924.0 1091.1 L925.5 1087.3 L927.0 1087.7 L928.5 1091.3 L930.0 1088.2 L931.5 1085.4 L933.0 1088.7 L934.5 1088.5 L936.0 1089.5 L937.5 1087.5 L939.0 1090.2 L940.5 1087.4 L942.0 1088.8 L943.5 1087.1 L945.0 1085.6 L946.5 1085.5 L948.0 1085.3 L949.5 1084.3 L951.0 1088.9 L952.5 1085.3 L954.0 1084.3 L955.5 1086.1 L957.0 1084.2 L958.5 1087.7 L960.0 1088.8 L961.5 1086.5 L963.0 1085.6 L964.5 1085.1 L966.0 1086.3 L967.5 1086.8 L969.0 1086.8 L970.5 1084.6 L972.0 1085.5 L973.5 1082.9 L975.0 1085.0 L976.5 1085.2 L978.0 1086.3 L979.5 1086.4 L981.1 1083.3 L982.6 1082.4 L984.1 1087.7 L985.6 1084.6 L987.1 1084.1 L988.6 1085.0 L990.2 1084.0 L991.7 1085.2 L993.2 1085.2 L994.7 1083.2 L996.2 1082.1 L997.7 1083.3 L999.2 1079.1 L1000.8 1085.4 L1002.3 1083.0 L1003.8 1082.3 L1005.3 1084.5 L1006.8 1084.8 L1008.3 1083.2 L1009.8 1082.3 L1011.4 1081.1 L1012.9 1082.2 L1014.4 1082.4 L1015.9 1081.1 L1017.4 1083.1 L1018.9 1083.9 L1020.5 1082.9 L1022.0 1086.5 L1023.5 1083.3 L1025.0 1083.2 L1026.5 1083.9 L1028.0 1088.4 L1029.5 1085.3 L1031.0 1082.8 L1032.5 1083.1 L1034.0 1082.1 L1035.5 1082.5 L1037.0 1081.8 L1038.5 1079.7 L1040.0 1079.6 L1041.5 1082.7 L1043.0 1084.1 L1044.5 1081.6 L1046.0 1079.6 L1047.5 1079.1 L1049.0 1083.1 L1050.5 1083.6 L1052.0 1082.2 L1053.5 1080.2 L1055.0 1079.5 L1056.5 1081.7 L1058.0 1079.5 L1059.5 1078.2 L1061.0 1076.1 L1062.5 1079.5 L1064.0 1078.4 L1065.5 1079.0 L1067.0 1077.8 L1068.5 1081.4 L1070.0 1077.7 L1071.5 1080.8 L1073.0 1079.2 L1074.5 1078.5 L1076.0 1080.0 L1077.5 1076.7 L1079.0 1080.7 L1080.5 1077.7 L1082.0 1077.7 L1083.5 1079.2 L1085.0 1078.7 L1086.5 1076.9 L1088.0 1079.5 L1089.5 1076.5 L1091.0 1078.0 L1092.5 1076.6 L1094.0 1077.6 L1095.5 1078.8 L1097.0 1077.3 L1098.5 1076.1 L1100.0 1077.5 L1101.5 1079.0 L1103.0 1078.1 L1104.5 1075.8 L1106.1 1076.3 L1107.6 1076.1 L1109.1 1080.8 L1110.6 1077.0 L1112.1 1078.9 L1113.6 1077.5 L1115.2 1077.6 L1116.7 1076.5 L1118.2 1072.9 L1119.7 1075.7 L1121.2 1076.3 L1122.7 1074.6 L1124.2 1078.2 L1125.8 1075.7 L1127.3 1075.4 L1128.8 1071.8 L1130.3 1076.8 L1131.8 1076.8 L1133.3 1072.7 L1134.8 1072.8 L1136.4 1076.3 L1137.9 1072.5 L1139.4 1074.9 L1140.9 1073.9 L1142.4 1076.4 L1143.9 1074.0 L1145.5 1074.8 L1147.0 1073.4 L1148.5 1070.7 L1150.0 1073.8 L1151.6 1073.3 L1153.1 1075.5 L1154.7 1072.8 L1156.2 1073.4 L1157.8 1072.8 L1159.4 1073.8 L1160.9 1073.4 L1162.5 1074.2 L1164.1 1070.6 L1165.6 1069.1 L1167.2 1073.6 L1168.8 1071.0 L1170.3 1071.6 L1171.9 1074.0 L1173.4 1070.5 L1175.0 1071.2 L1176.6 1073.9 L1178.1 1070.9 L1179.7 1067.6 L1181.2 1070.7 L1182.8 1070.8 L1184.4 1070.7 L1185.9 1070.1 L1187.5 1074.2 L1189.1 1072.5 L1190.6 1071.5 L1192.2 1069.2 L1193.8 1069.7 L1195.3 1070.5 L1196.9 1072.1 L1198.4 1067.1 L1200.0 1069.5 L1201.6 1071.3 L1203.1 1070.9 L1204.7 1069.3 L1206.2 1069.1 L1207.8 1067.2 L1209.4 1067.5 L1210.9 1069.6 L1212.5 1068.3 L1214.1 1069.0 L1215.6 1067.9 L1217.2 1065.8 L1218.8 1067.7 L1220.3 1068.7 L1221.9 1068.5 L1223.4 1066.3 L1225.0 1065.0 L1226.5 1062.3 L1228.1 1066.0 L1229.6 1061.5 L1231.2 1067.1 L1232.7 1062.8 L1234.3 1062.0 L1235.8 1065.5 L1237.4 1064.3 L1238.9 1063.4 L1240.5 1065.5 L1242.0 1062.3 L1243.6 1063.6 L1245.1 1063.2 L1246.7 1063.1 L1248.2 1062.9 L1249.8 1062.7 L1251.3 1058.4 L1252.9 1060.6 L1254.4 1061.4 L1256.0 1059.4 L1257.5 1060.8 L1259.1 1062.3 L1260.6 1060.5 L1262.2 1059.6 L1263.8 1062.5 L1265.3 1060.3 L1266.9 1061.0 L1268.4 1061.7 L1270.0 1062.5 L1271.6 1062.5 L1273.1 1064.6 L1274.7 1066.5 L1276.2 1064.9 L1277.8 1067.3 L1279.4 1067.2 L1280.9 1068.4 L1282.5 1069.5 L1284.0 1066.5 L1285.5 1067.5 L1287.0 1064.6 L1288.5 1063.4 L1290.0 1062.5 L1295.0 1052.5 L1296.7 1050.4 L1298.3 1048.9 L1300.0 1049.5 L1305.0 1060.0 L1308.8 1077.5 L1310.4 1080.7 L1312.1 1082.1 L1313.8 1085.0 L1318.8 1100.0 L1322.5 1108.8 L1324.0 1105.8 L1325.5 1106.5 L1327.5 1102.0 L1329.6 1096.0 L1330.5 1085.0 L1331.4 1069.0 L1331.9 1025.0 L1332.8 940.0 L1335.4 757.0 L1336.9 776.0 L1337.6 950.0 L1338.4 1030.0 L1339.5 1080.0 L1340.5 1105.0 L1342.5 1119.0 L1345.0 1125.0 L1346.5 1126.3 L1348.0 1127.1 L1349.5 1124.7 L1351.0 1126.5 L1352.5 1125.8 L1354.1 1124.9 L1355.7 1125.7 L1357.3 1126.4 L1358.9 1124.4 L1360.5 1124.2 L1362.0 1124.7 L1363.6 1125.6 L1365.2 1125.9 L1366.8 1124.4 L1368.4 1125.2 L1370.0 1125.0 L1371.5 1126.8 L1373.0 1124.8 L1374.5 1122.6 L1376.0 1124.4 L1377.5 1122.3 L1379.0 1122.7 L1380.5 1122.5 L1382.0 1124.2 L1383.5 1125.0 L1385.0 1122.5 L1386.5 1124.1 L1388.0 1123.9 L1389.5 1122.1 L1391.0 1124.7 L1392.5 1124.7 L1394.0 1122.1 L1395.5 1125.6 L1397.0 1123.8 L1398.5 1123.7 L1400.0 1123.8 L1401.5 1124.5 L1403.0 1125.7 L1404.5 1123.3 L1406.0 1124.6 L1407.5 1125.2 L1409.0 1123.2 L1410.5 1124.8 L1412.0 1123.3 L1413.5 1122.7 L1415.0 1123.0 L1416.5 1122.9 L1418.0 1122.8 L1419.5 1123.5 L1421.0 1123.5 L1422.5 1122.2 L1424.0 1121.1 L1425.5 1120.7 L1427.0 1120.0 L1428.5 1117.7 L1430.0 1119.5 L1431.5 1120.0 L1433.1 1121.3 L1434.6 1118.3 L1436.2 1119.7 L1437.7 1119.5 L1439.2 1119.3 L1440.8 1118.1 L1442.3 1117.6 L1443.8 1119.4 L1445.4 1119.6 L1446.9 1118.4 L1448.5 1120.2 L1450.0 1119.2 L1451.6 1118.5 L1453.1 1118.6 L1454.7 1117.5 L1456.2 1118.9 L1457.8 1117.3 L1459.4 1116.4 L1460.9 1114.3 L1462.5 1115.5 L1464.1 1118.0 L1465.6 1116.6 L1467.2 1117.8 L1468.8 1114.3 L1470.3 1115.5 L1471.9 1115.4 L1473.4 1114.8 L1475.0 1115.5 L1476.5 1115.0 L1478.0 1114.2 L1479.5 1114.6 L1481.0 1113.6 L1482.5 1111.8 L1484.1 1110.5 L1485.6 1113.2 L1487.2 1112.1 L1488.8 1114.2 L1490.3 1113.7 L1491.9 1113.7 L1493.4 1111.9 L1495.0 1113.0 L1496.5 1112.4 L1498.0 1113.2 L1499.5 1110.7 L1501.0 1111.3 L1502.5 1109.2 L1503.9 1107.3 L1505.4 1107.7 L1506.8 1108.5 L1508.2 1107.7 L1509.6 1106.8 L1511.1 1108.6 L1512.5 1107.5 L1514.1 1106.9 L1515.6 1107.2 L1517.2 1106.3 L1518.8 1107.4 L1520.3 1103.2 L1521.9 1102.6 L1523.4 1105.4 L1525.0 1104.5 L1526.6 1105.7 L1528.1 1103.9 L1529.7 1104.0 L1531.2 1102.6 L1532.8 1103.8 L1534.4 1102.7 L1535.9 1100.7 L1537.5 1101.2 L1539.1 1103.4 L1540.7 1100.4 L1542.3 1098.9 L1543.9 1102.7 L1545.5 1101.0 L1547.0 1101.2 L1548.6 1099.1 L1550.2 1101.4 L1551.8 1100.8 L1553.4 1100.6 L1555.0 1100.8 L1556.5 1103.3 L1558.0 1101.9 L1559.5 1103.6 L1561.0 1102.0 L1562.5 1103.2 L1564.1 1104.2 L1565.6 1104.1 L1567.2 1106.7 L1568.8 1107.7 L1570.3 1108.1 L1571.9 1108.2 L1573.4 1107.3 L1575.0 1110.0 L1576.6 1110.4 L1578.1 1113.8 L1579.7 1112.7 L1581.2 1113.9 L1582.8 1116.0 L1584.4 1114.4 L1585.9 1115.2 L1587.5 1116.2 L1589.1 1117.0 L1590.6 1118.4 L1592.2 1119.5 L1593.8 1118.8 L1595.3 1118.0 L1596.9 1119.3 L1598.4 1119.9 L1600.0 1120.0 L1601.6 1122.3 L1603.1 1120.0 L1604.7 1122.4 L1606.2 1122.8 L1607.8 1124.0 L1609.4 1123.9 L1610.9 1125.6 L1612.5 1125.0 L1614.1 1125.3 L1615.6 1125.5 L1617.2 1128.2 L1618.8 1124.8 L1620.3 1128.0 L1621.9 1126.5 L1623.4 1125.7 L1625.0 1126.2 L1626.6 1128.0 L1628.1 1126.8 L1629.7 1127.6 L1631.2 1127.5 L1632.8 1129.5 L1634.4 1127.8 L1635.9 1129.1 L1637.5 1130.0 L1639.1 1129.5 L1640.6 1131.6 L1642.2 1132.1 L1643.8 1132.3 L1645.3 1131.0 L1646.9 1131.5 L1648.4 1131.0 L1650.0 1132.5 L1651.6 1132.8 L1653.1 1131.8 L1654.7 1132.5 L1656.2 1131.2 L1657.8 1132.6 L1659.4 1134.5 L1660.9 1132.3 L1662.5 1132.5 L1664.1 1132.8 L1665.7 1131.9 L1667.3 1132.1 L1668.9 1133.1 L1670.5 1131.9 L1672.1 1132.6 L1673.8 1133.8 L1675.3 1135.8 L1676.9 1134.6 L1678.4 1138.6 L1680.0 1140.0 L1681.6 1140.6 L1683.1 1143.8 L1684.7 1146.7 L1686.2 1148.8 L1687.9 1149.1 L1689.5 1151.4 L1691.2 1150.9 L1692.8 1152.9 L1694.5 1153.8 L1696.0 1155.1 L1697.5 1152.4 L1699.0 1151.0 L1700.5 1151.2 L1702.0 1150.0 L1707.5 1140.0 L1709.8 1110.0 L1711.2 1060.0 L1712.8 1010.0 L1713.8 1002.0 L1715.2 1060.0 L1717.0 1135.0 L1718.2 1167.5 L1720.1 1170.2 L1722.0 1172.5 L1723.5 1172.3 L1725.0 1172.6 L1726.5 1172.5 L1728.0 1172.6 L1729.5 1172.7 L1731.0 1172.2 L1732.5 1172.8 L1734.0 1172.9 L1735.5 1173.4 L1737.0 1173.0 L1738.6 1172.9 L1740.2 1172.5 L1741.8 1172.9 L1743.4 1173.1 L1745.0 1173.1 L1746.5 1171.9 L1748.1 1173.0 L1749.7 1172.2 L1751.3 1171.8 L1752.9 1172.5 L1754.5 1172.0 L1756.0 1172.0 L1757.6 1171.5 L1759.1 1172.0 L1760.7 1171.7 L1762.2 1171.7 L1763.7 1171.1 L1765.3 1171.6 L1766.8 1171.7 L1768.3 1171.4 L1769.9 1171.3 L1771.4 1171.1 L1773.0 1172.1 L1774.5 1171.2 L1776.1 1171.3 L1777.7 1171.1 L1779.3 1171.3 L1780.9 1171.8 L1782.5 1171.8 L1784.0 1171.5 L1785.6 1171.9 L1787.2 1172.0 L1788.8 1172.5 L1790.4 1172.3 L1792.0 1172.5 L1793.5 1172.1 L1795.1 1171.5 L1796.6 1172.5 L1798.2 1172.3 L1799.7 1171.8 L1801.2 1172.1 L1802.8 1172.0 L1804.3 1172.3 L1805.8 1172.2 L1807.4 1172.4 L1808.9 1171.8 L1810.5 1171.7 L1812.0 1172.0 L1813.5 1172.1 L1815.0 1171.6 L1816.5 1171.3 L1818.0 1170.9 L1819.5 1171.4 L1821.0 1171.8 L1822.5 1171.4 L1824.0 1171.5 L1825.5 1171.6 L1827.0 1171.2 L1828.5 1171.9 L1830.0 1171.1 L1831.5 1171.5 L1833.0 1171.3 L1834.5 1171.2 L1836.0 1171.1 L1837.5 1171.5 L1839.0 1171.1 L1840.5 1171.4 L1842.0 1171.2 L1843.5 1171.1 L1845.0 1170.8 L1846.5 1170.9 L1848.0 1170.8 L1849.5 1171.0 L1851.0 1170.7 L1852.5 1170.8 L1854.0 1170.4 L1855.5 1170.1 L1857.0 1170.5 L1858.4 1170.5 L1859.9 1170.4 L1861.3 1170.0 L1862.7 1169.2 L1864.1 1168.9 L1865.6 1169.0 L1867.0 1168.8 L1868.4 1168.0 L1869.9 1169.1 L1871.3 1168.4 L1872.7 1168.3 L1874.1 1167.8 L1875.6 1168.0 L1877.0 1167.5 L1878.5 1168.5 L1880.0 1168.2 L1881.5 1168.6 L1883.0 1169.7 L1884.5 1170.0 L1885.9 1170.8 L1887.4 1170.4 L1888.8 1171.5 L1890.2 1171.8 L1891.6 1171.6 L1893.1 1172.9 L1894.5 1172.5 L1896.0 1172.4 L1897.5 1172.4 L1899.0 1172.6 L1900.5 1172.2 L1902.0 1172.0 L1903.3 1171.1 L1904.7 1169.7 L1906.0 1168.8 L1907.8 1162.5 L1909.1 1150.0 L1910.8 1138.0 L1912.4 1150.0 L1913.8 1163.8 L1915.5 1170.0 L1917.2 1171.0 L1919.0 1172.0 L1920.8 1173.0 L1922.2 1172.8 L1923.7 1174.0 L1925.1 1173.7 L1926.6 1174.1 L1928.0 1174.1 L1929.5 1174.5 L1930.9 1174.5 L1932.4 1174.1 L1933.8 1174.5 L1935.2 1173.5 L1936.6 1173.6 L1938.1 1172.9 L1939.5 1173.2 L1941.0 1173.8 L1942.5 1174.4 L1944.0 1174.3 L1945.5 1174.8 L1947.0 1175.0 L1948.4 1175.7 L1949.9 1175.9 L1951.3 1176.1 L1952.7 1176.3 L1954.1 1176.8 L1955.6 1177.1 L1957.0 1177.5 L1958.4 1177.9 L1959.9 1178.4 L1961.3 1178.8 L1962.7 1179.2 L1964.1 1179.6 L1965.6 1180.1 L1967.0 1180.5 L1968.4 1180.6 L1969.9 1180.7 L1971.3 1180.8 L1972.7 1180.9 L1974.1 1181.0 L1975.6 1181.1 L1977.0 1181.2 L1978.5 1181.0 L1980.0 1180.8 L1981.5 1180.5 L1983.0 1180.2 L1984.5 1180.0 L1987.0 1172.5 L1988.8 1169.5 L1990.8 1175.0 L1993.2 1182.5 L1994.9 1182.5 L1996.5 1182.5 L1998.1 1182.5 L1999.7 1182.5 L2001.3 1182.5 L2002.9 1182.5 L2004.5 1182.5 L2006.0 1182.5 L2007.5 1182.5 L2009.0 1182.5 L2010.5 1182.5 L2012.0 1182.5 L2013.5 1182.5 L2015.0 1182.5 L2016.5 1182.5 L2018.0 1182.5 L2019.5 1182.5 L2021.0 1182.5 L2022.5 1182.5 L2024.0 1182.5 L2025.5 1182.5 L2027.0 1182.5 L2028.5 1182.5 L2030.0 1182.5 L2031.5 1182.5 L2033.0 1182.5 L2034.5 1182.5 L2036.0 1182.5 L2037.5 1182.5 L2039.0 1182.5 L2040.5 1182.5 L2042.0 1182.5 L2043.5 1182.5 L2045.0 1182.5 L2046.5 1182.5 L2048.1 1182.5 L2049.6 1182.5 L2051.1 1182.5 L2052.6 1182.5 L2054.1 1182.5 L2055.6 1182.5 L2057.2 1182.5 L2058.7 1182.5 L2060.2 1182.5 L2061.7 1182.5 L2063.2 1182.5 L2064.7 1182.5 L2066.2 1182.5 L2067.8 1182.5 L2069.3 1182.5 L2070.8 1182.5 L2072.3 1182.5 L2073.8 1182.5 L2075.3 1182.5 L2076.8 1182.5 L2078.4 1182.5 L2079.9 1182.5 L2081.4 1182.5 L2082.9 1182.5 L2084.4 1182.5 L2085.9 1182.5 L2087.5 1182.5 L2089.0 1182.5 L2090.5 1182.5 L2092.0 1182.5 L2093.5 1182.5 L2095.1 1182.5 L2096.6 1182.5 L2098.1 1182.5 L2099.7 1182.5 L2101.2 1182.5 L2102.8 1182.5 L2104.3 1182.5 L2105.8 1182.5 L2107.4 1182.5 L2108.9 1182.5 L2110.4 1182.5 L2112.0 1182.5 L2113.5 1182.5 L2115.1 1182.5 L2116.6 1182.5 L2118.1 1182.5 L2119.7 1182.5 L2121.2 1182.5 L2122.7 1182.5 L2124.3 1182.5 L2125.8 1182.5 L2127.4 1182.5 L2128.9 1182.5 L2130.4 1182.5 L2132.0 1182.5 L2133.5 1182.5 L2135.5 1183.5 L2137.1 1183.5 L2138.6 1183.5 L2140.2 1183.5 L2141.7 1183.5 L2143.2 1183.5 L2145.2 1183.5"/></g>
</g>
<g fill="#000" shape-rendering="crispEdges">
<rect x="232" y="39" width="1919" height="5"/>
<rect x="232" y="1435" width="1919" height="4"/>
<rect x="233" y="39" width="4" height="1400"/>
<rect x="2146" y="39" width="5" height="1400"/>
<path d="M200 55 H233 V60 H200 Z M200 281 H233 V286 H200 Z M200 505 H233 V510 H200 Z M200 731 H233 V736 H200 Z M200 955 H233 V960 H200 Z M200 1181 H233 V1186 H200 Z M200 1407 H233 V1411 H200 Z"/>
<path d="M2140 1434 H2145 V1472 H2140 Z M2110 1434 H2115 V1455 H2110 Z M2080 1434 H2084 V1455 H2080 Z M2049 1434 H2054 V1455 H2049 Z M2019 1434 H2023 V1455 H2019 Z M1988 1434 H1993 V1463 H1988 Z M1958 1434 H1962 V1455 H1958 Z M1927 1434 H1932 V1455 H1927 Z M1897 1434 H1901 V1455 H1897 Z M1866 1434 H1871 V1455 H1866 Z M1836 1434 H1841 V1472 H1836 Z M1806 1434 H1810 V1455 H1806 Z M1775 1434 H1780 V1455 H1775 Z M1745 1434 H1749 V1455 H1745 Z M1714 1434 H1719 V1455 H1714 Z M1684 1434 H1688 V1463 H1684 Z M1653 1434 H1658 V1455 H1653 Z M1623 1434 H1627 V1455 H1623 Z M1592 1434 H1597 V1455 H1592 Z M1562 1434 H1567 V1455 H1562 Z M1532 1434 H1536 V1472 H1532 Z M1501 1434 H1506 V1455 H1501 Z M1471 1434 H1475 V1455 H1471 Z M1440 1434 H1445 V1455 H1440 Z M1410 1434 H1414 V1455 H1410 Z M1379 1434 H1384 V1463 H1379 Z M1349 1434 H1353 V1455 H1349 Z M1318 1434 H1323 V1455 H1318 Z M1288 1434 H1293 V1455 H1288 Z M1258 1434 H1262 V1455 H1258 Z M1227 1434 H1232 V1472 H1227 Z M1197 1434 H1201 V1455 H1197 Z M1166 1434 H1171 V1455 H1166 Z M1136 1434 H1140 V1455 H1136 Z M1105 1434 H1110 V1455 H1105 Z M1075 1434 H1079 V1463 H1075 Z M1044 1434 H1049 V1455 H1044 Z M1014 1434 H1019 V1455 H1014 Z M984 1434 H988 V1455 H984 Z M953 1434 H958 V1455 H953 Z M923 1434 H927 V1472 H923 Z M892 1434 H897 V1455 H892 Z M862 1434 H866 V1455 H862 Z M831 1434 H836 V1455 H831 Z M801 1434 H806 V1455 H801 Z M770 1434 H775 V1463 H770 Z M740 1434 H745 V1455 H740 Z M710 1434 H714 V1455 H710 Z M679 1434 H684 V1455 H679 Z M649 1434 H653 V1455 H649 Z M618 1434 H623 V1472 H618 Z M588 1434 H592 V1455 H588 Z M557 1434 H562 V1455 H557 Z M527 1434 H532 V1455 H527 Z M497 1434 H501 V1455 H497 Z M466 1434 H471 V1463 H466 Z M436 1434 H440 V1455 H436 Z M405 1434 H410 V1455 H405 Z M375 1434 H379 V1455 H375 Z M344 1434 H349 V1455 H344 Z M314 1434 H318 V1472 H314 Z M283 1434 H288 V1455 H283 Z M253 1434 H258 V1455 H253 Z"/>
</g>
<g shape-rendering="crispEdges" stroke-width="5" fill="none">
<path stroke="#000000" d="M380.75 179.25 H450.75"/>
<path stroke="#ff0000" d="M380.75 232.25 H450.75"/>
<path stroke="#0000ff" d="M380.75 284.25 H450.75"/>
<path stroke="#ff00cc" d="M380.75 336.25 H450.75"/>
<path stroke="#009900" d="M380.75 389.25 H450.75"/>
</g>
<g font-family="'Liberation Sans', sans-serif" fill="#000" stroke="#000" stroke-width="0.7" stroke-linejoin="round" text-rendering="geometricPrecision" filter="url(#crisp)">
<text transform="translate(469.40 192.20) scale(1 1.0500)" font-size="46.60">SiO<tspan dy="8.6" font-size="32.6">2</tspan><tspan dy="-8.6" font-size="46.60"></tspan></text>
<text transform="translate(469.40 244.50) scale(1 1.0500)" font-size="46.60">C/SiO<tspan dy="8.6" font-size="32.6">2</tspan><tspan dy="-8.6" font-size="46.60">-0.04M</tspan></text>
<text transform="translate(469.40 296.75) scale(1 1.0500)" font-size="46.60">C/SiO<tspan dy="8.6" font-size="32.6">2</tspan><tspan dy="-8.6" font-size="46.60">-0.055M</tspan></text>
<text transform="translate(469.40 349.00) scale(1 1.0500)" font-size="46.60">C/SiO<tspan dy="8.6" font-size="32.6">2</tspan><tspan dy="-8.6" font-size="46.60">-0.07M</tspan></text>
<text transform="translate(469.40 401.30) scale(1 1.0500)" font-size="46.60">C/SiO<tspan dy="8.6" font-size="32.6">2</tspan><tspan dy="-8.6" font-size="46.60">-0.085M</tspan></text>
<text transform="translate(1257.30 109.05) scale(1 1.0500)" font-size="46.60">O1s</text>
<text transform="translate(1678.50 958.20) scale(1 1.0500)" font-size="46.60">C1s</text>
<text transform="translate(1842.80 1110.05) scale(1 1.0500)" font-size="46.60">Si 2s</text>
<text transform="translate(1949.80 1134.05) scale(1 1.0500)" font-size="46.60">Si 2p</text>
</g>
<g font-family="'Liberation Sans', sans-serif" fill="#000" font-weight="bold" stroke="#000" stroke-width="0.5" stroke-linejoin="round" text-rendering="geometricPrecision" filter="url(#crisp)">
<text transform="translate(185.30 1422.40) scale(1 1.0250)" font-size="46.70" text-anchor="end">0</text>
<text transform="translate(185.30 1196.40) scale(1 1.0250)" font-size="46.70" text-anchor="end">10</text>
<text transform="translate(185.30 970.40) scale(1 1.0250)" font-size="46.70" text-anchor="end">20</text>
<text transform="translate(185.30 746.40) scale(1 1.0250)" font-size="46.70" text-anchor="end">30</text>
<text transform="translate(185.30 520.40) scale(1 1.0250)" font-size="46.70" text-anchor="end">40</text>
<text transform="translate(185.30 296.40) scale(1 1.0250)" font-size="46.70" text-anchor="end">50</text>
<text transform="translate(24.60 79.10) scale(1 1.0250)" font-size="46.70">60 x10<tspan dy="-27.5" font-size="32.5">6</tspan></text>
<text transform="translate(2143.50 1525.10) scale(1 1.0250)" font-size="46.70" text-anchor="middle">0</text>
<text transform="translate(1839.07 1525.10) scale(1 1.0250)" font-size="46.70" text-anchor="middle">200</text>
<text transform="translate(1534.65 1525.10) scale(1 1.0250)" font-size="46.70" text-anchor="middle">400</text>
<text transform="translate(1230.22 1525.10) scale(1 1.0250)" font-size="46.70" text-anchor="middle">600</text>
<text transform="translate(925.80 1525.10) scale(1 1.0250)" font-size="46.70" text-anchor="middle">800</text>
<text transform="translate(621.37 1525.10) scale(1 1.0250)" font-size="46.70" text-anchor="middle">1000</text>
<text transform="translate(316.94 1525.10) scale(1 1.0250)" font-size="46.70" text-anchor="middle">1200</text>
<text transform="translate(1192.60 1588.80) scale(1 1.0400)" font-size="54.00" text-anchor="middle">Binding energy (eV)</text>
<text transform="translate(92.20 747.60) rotate(-90) scale(1 1.0300)" font-size="54.40" text-anchor="middle">XPS intensity (cps)</text>
</g>
</svg>
</body>
</html>
